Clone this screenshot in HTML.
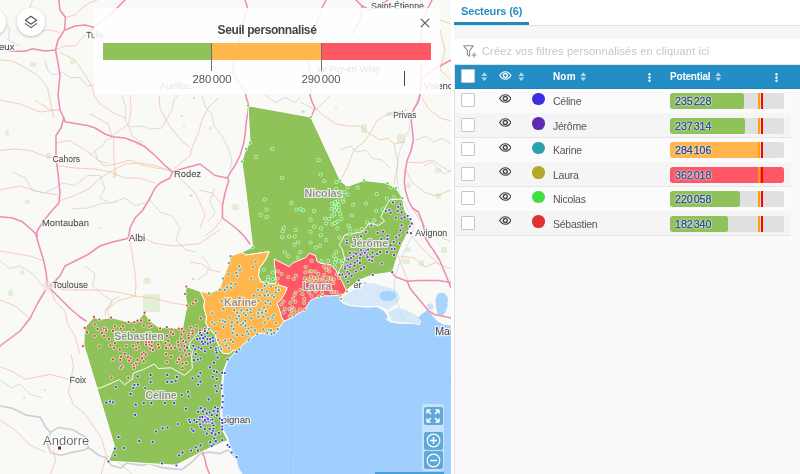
<!DOCTYPE html>
<html lang="fr"><head><meta charset="utf-8"><title>Secteurs</title>
<style>
*{box-sizing:border-box}
html,body{margin:0;padding:0}
body{width:800px;height:474px;overflow:hidden;position:relative;background:#fafafa;font-family:"Liberation Sans",sans-serif;color:#444}
#map{position:absolute;left:0;top:0;width:450.7px;height:474px;overflow:hidden;background:#f9f9f6}
#map svg{position:absolute;left:0;top:0}
#gut{position:absolute;left:450.7px;top:0;width:3.6px;height:474px;background:#fff}
#pl{z-index:4;position:absolute;left:0;top:64px;width:0.8px;height:410px;background:#e0e0e0}
#panel{position:absolute;left:454px;top:0;width:346px;height:474px;background:#fafafa;overflow:hidden}
.abs{position:absolute}
#tab{left:7px;top:3.2px;font-size:11px;font-weight:bold;color:#2b8cc4;line-height:16px;white-space:nowrap;letter-spacing:-0.15px}
#tabline{left:0;top:22px;width:75px;height:3px;background:#1f8ac0}
#tabrule{left:0;top:25px;width:346px;height:1px;background:#e3e3e3}
#tabbg{left:0;top:0;width:346px;height:25px;background:#fff}
#band{left:0;top:26px;width:346px;height:13px;background:#f7f7f7}
#filter{left:0;top:39px;width:346px;height:25.8px;background:#fff;border-bottom:1px solid #e2e2e2}
#filter span{position:absolute;left:28px;top:4px;font-size:11px;color:#c6c6c6;line-height:16px;white-space:nowrap;letter-spacing:0.17px}
#head{z-index:3;left:0;top:64.8px;width:346px;height:24px;background:#238ec6;border-bottom:1px solid #1f84ba}
.hl{position:absolute;top:5.6px;font-size:10px;color:#fff;line-height:14px;white-space:nowrap;font-weight:bold;letter-spacing:-0.2px}
.cb{position:absolute;left:6.9px;width:14px;height:14px;background:#fff;border:1px solid #c6c6c6;border-radius:1.2px}
.row{position:absolute;left:0;width:337px;height:25px;border-bottom:1.2px solid #e6e6e6;background:#fbfbfb}
.row.alt{background:#f5f5f5}
.nm{position:absolute;left:99px;top:5.6px;font-size:10.5px;color:#555;line-height:14px;white-space:nowrap;letter-spacing:-0.25px}
.dot{position:absolute;left:78px;top:4px;width:12.6px;height:12.6px;border-radius:50%}
.track{position:absolute;left:216.2px;top:4.7px;width:114.2px;height:16.2px;background:#e0e0e0;border-radius:2.5px;overflow:hidden}
.fill{position:absolute;left:0;top:0;height:100%;border-radius:2.5px}
.mo{position:absolute;left:87.6px;top:0;width:2px;height:100%;background:#ffa500}
.mr{position:absolute;left:90.5px;top:0;width:2.3px;height:100%;background:#f00}
.val{position:absolute;left:4.8px;top:0.2px;font-size:10.6px;line-height:16px;color:#2b4a88;white-space:nowrap;letter-spacing:0;word-spacing:-1.9px;-webkit-text-stroke:0.35px #2b4a88;text-shadow:0 0 1px #fff,0 0 1px #fff,0 0 2px #fff,0 0 2px #fff}
#legend{left:94px;top:8px;width:346px;height:86.2px;background:rgba(255,255,255,0.86)}
#legend .t{position:absolute;left:0;top:14px;width:346px;text-align:center;font-size:12px;font-weight:bold;color:#444;line-height:16px;letter-spacing:-0.4px}
#legend .b{position:absolute;top:35px;height:17px}
#legend .tk{position:absolute;top:35px;width:1.25px;height:27.5px;background:#707070}
#legend .lb{position:absolute;top:62.5px;width:60px;text-align:center;font-size:11.3px;color:#555;line-height:16px;word-spacing:-1.6px}
.circ{position:absolute;width:28px;height:28px;border-radius:50%;background:#fff;box-shadow:0 1px 3px rgba(0,0,0,0.25)}
#zc{left:422px;top:404px;width:22px;height:67px;background:rgba(255,255,255,0.4);border-radius:3px}
.zb{position:absolute;left:2px;width:18.5px;height:18px;background:#5ea9d8;border-radius:2px}
</style></head>
<body>
<div id="map">
<svg width="451" height="474" viewBox="0 0 451 474" font-family="Liberation Sans, sans-serif">
<defs><filter id="bl" x="-5%" y="-5%" width="110%" height="110%"><feGaussianBlur stdDeviation="0.55"/></filter><filter id="bd" x="-2%" y="-2%" width="104%" height="104%"><feGaussianBlur stdDeviation="0.3"/></filter><filter id="halo" x="-5%" y="-5%" width="110%" height="110%"><feMorphology in="SourceAlpha" operator="dilate" radius="0.8" result="d"/><feGaussianBlur in="d" stdDeviation="0.45" result="b"/><feFlood flood-color="#fff" flood-opacity="0.9"/><feComposite in2="b" operator="in" result="h"/><feMerge><feMergeNode in="h"/><feMergeNode in="SourceGraphic"/></feMerge></filter><filter id="halo2" x="-5%" y="-5%" width="110%" height="110%"><feMorphology in="SourceAlpha" operator="dilate" radius="1.3" result="d"/><feGaussianBlur in="d" stdDeviation="0.5" result="b"/><feFlood flood-color="#fff" flood-opacity="0.8"/><feComposite in2="b" operator="in" result="h"/><feMerge><feMergeNode in="h"/><feMergeNode in="SourceGraphic"/></feMerge></filter><clipPath id="c361"><rect x="353.6" y="270" width="20" height="30"/></clipPath><clipPath id="c250"><rect x="223.2" y="405" width="40" height="30"/></clipPath><clipPath id="c14"><rect x="0" y="30" width="40" height="30"/></clipPath></defs>
<rect width="451" height="474" fill="#f9f9f6"/>
<g filter="url(#bl)">
<polygon points="339.7,295.2 339.7,300.3 343.5,304.0 351.0,306.6 358.2,307.1 368.0,307.8 376.4,307.1 383.4,310.6 387.6,316.2 386.2,319.7 390.4,322.5 401.6,323.9 412.8,323.9 419.8,325.3 421.2,321.8 418.4,317.6 422.6,313.4 426.8,310.6 431.0,313.4 433.8,317.6 438.0,321.8 443.6,324.6 452.0,326.0 451.0,474.0 242.6,474.0 238.5,467.4 236.6,458.0 233.0,452.5 230.5,446.0 228.4,438.6 225.8,433.5 223.6,429.4 222.8,421.0 222.4,413.0 223.6,399.4 223.2,385.8 224.5,372.2 228.4,360.0 235.8,351.8 243.2,344.3 249.5,339.2 257.0,334.2 263.4,332.9 271.0,334.2 277.3,329.7 283.5,320.3 294.0,314.0 304.0,307.0 312.0,298.0 318.4,294.0 326.0,293.0 335.3,293.0" fill="#a0cffd"/>
<path d="M292.5 322 L292 400 L290.5 474 M451 378 L420 435 L399 474" fill="none" stroke="#8fbdf0" stroke-width="0.9" opacity="0.45"/>
<g fill="#d3e8c2" opacity="0.6">
<rect x="143.5" y="278.0" width="7.0" height="6.0" rx="1.5"/>
<rect x="143.0" y="294.0" width="17.0" height="18.0" rx="1.5"/>
<rect x="361.0" y="124.0" width="6.0" height="9.0" rx="1.5"/>
<rect x="397.0" y="134.0" width="8.0" height="9.0" rx="1.5"/>
<rect x="386.0" y="112.0" width="8.0" height="4.0" rx="1.5"/>
<rect x="435.0" y="168.0" width="6.0" height="5.0" rx="1.5"/>
<rect x="46.0" y="153.0" width="5.0" height="6.0" rx="1.5"/>
<rect x="137.0" y="140.0" width="6.0" height="5.0" rx="1.5"/>
<rect x="113.0" y="172.0" width="4.0" height="5.0" rx="1.5"/>
<rect x="232.0" y="204.0" width="7.0" height="6.0" rx="1.5"/>
<rect x="402.0" y="259.0" width="8.0" height="5.0" rx="1.5"/>
<rect x="419.0" y="260.0" width="5.0" height="6.0" rx="1.5"/>
<rect x="406.0" y="183.0" width="5.0" height="5.0" rx="1.5"/>
<rect x="436.0" y="193.0" width="5.0" height="6.0" rx="1.5"/>
<rect x="441.0" y="247.0" width="6.0" height="6.0" rx="1.5"/>
<rect x="406.0" y="247.0" width="5.0" height="5.0" rx="1.5"/>
<rect x="70.0" y="60.0" width="5.0" height="4.0" rx="1.5"/>
<rect x="30.0" y="62.0" width="6.0" height="5.0" rx="1.5"/>
<rect x="5.0" y="130.0" width="4.0" height="6.0" rx="1.5"/>
<rect x="25.0" y="200.0" width="5.0" height="4.0" rx="1.5"/>
<rect x="155.0" y="32.0" width="5.0" height="4.0" rx="1.5"/>
<rect x="388.0" y="20.0" width="5.0" height="5.0" rx="1.5"/>
<rect x="20.0" y="270.0" width="4.0" height="5.0" rx="1.5"/>
<rect x="8.0" y="290.0" width="5.0" height="6.0" rx="1.5"/>
</g>
<g fill="#a0cffd">
<ellipse cx="182.0" cy="116.0" rx="1.2" ry="1.0" opacity=".6"/>
<ellipse cx="184.0" cy="126.0" rx="1.2" ry="0.8" opacity=".6"/>
<ellipse cx="194.0" cy="98.0" rx="1.0" ry="1.2" opacity=".6"/>
<ellipse cx="303.0" cy="111.6" rx="2.2" ry="1.2" opacity=".6"/>
<ellipse cx="191.0" cy="195.5" rx="1.6" ry="1.6" opacity=".6"/>
<ellipse cx="193.0" cy="279.0" rx="1.5" ry="1.2" opacity=".6"/>
<ellipse cx="210.0" cy="128.0" rx="1.0" ry="1.5" opacity=".6"/>
<ellipse cx="336.0" cy="109.0" rx="1.0" ry="1.0" opacity=".6"/>
<ellipse cx="160.0" cy="248.0" rx="1.0" ry="1.0" opacity=".6"/>
<ellipse cx="100.0" cy="228.0" rx="1.0" ry="1.0" opacity=".6"/>
<ellipse cx="24.0" cy="398.0" rx="1.0" ry="1.0" opacity=".6"/>
<ellipse cx="45.0" cy="390.0" rx="1.0" ry="1.0" opacity=".6"/>
<ellipse cx="120.0" cy="60.0" rx="1.0" ry="1.4" opacity=".6"/>
<polygon points="343.0,297.0 350.0,292.0 358.0,288.0 366.0,284.0 374.0,283.0 382.0,286.0 390.0,288.0 398.0,292.0 400.0,299.0 395.0,305.0 388.0,310.0 380.0,306.0 370.0,306.0 360.0,306.0 350.0,305.0 343.0,302.0" opacity="0.38"/>
<polygon points="379.5,294.0 383.0,291.5 389.0,291.0 394.5,292.5 396.5,296.0 394.0,299.5 389.0,301.0 383.0,300.5 380.0,298.0" opacity="0.90"/>
<polygon points="437.0,295.0 440.0,292.5 445.0,293.5 448.0,298.0 447.5,306.0 445.0,313.0 441.0,316.5 437.5,314.0 436.0,307.0 435.5,300.0" opacity="0.90"/>
<polygon points="388.0,312.0 396.0,308.0 406.0,310.0 414.0,314.0 420.0,318.0 420.0,324.0 410.0,323.0 400.0,322.0 392.0,321.0" opacity="0.40"/>
<polygon points="362.8,283.3 365.0,281.8 367.2,283.3 365.0,284.8" opacity="0.80"/>
<polygon points="427.0,305.0 431.0,303.0 434.0,306.0 432.0,310.0 428.0,309.0" opacity="0.50"/>
</g>
<polyline points="420.0,92.0 414.0,110.0 410.0,122.0 409.0,130.0 404.0,140.0 400.0,150.0 398.0,160.0 397.0,174.0 398.0,185.0 400.0,196.0 405.0,204.0 410.0,214.0 414.0,226.0 412.0,236.0 406.0,248.0 400.0,262.0 396.0,274.0 394.0,286.0 396.0,298.0 400.0,310.0 404.0,322.0" fill="none" stroke="#b4d3f3" stroke-width="1" opacity="0.6"/>
<g fill="none" stroke="#d0cddb" stroke-width="0.9" stroke-linejoin="round" opacity="0.8">
<polyline points="122.0,95.0 126.0,108.0 125.0,120.0 129.0,127.0 142.0,126.0 150.0,129.0 162.0,128.0 166.0,120.0 172.0,110.0 174.0,100.0 178.0,95.0"/>
<polyline points="202.0,96.0 206.0,108.0 212.0,114.0 214.0,126.0 222.0,136.0 228.0,148.0 232.0,160.0 230.0,170.0"/>
<polyline points="90.0,156.0 96.0,150.0 102.0,146.0 106.0,140.0 112.0,138.0"/>
<polyline points="129.0,127.0 132.0,136.0 138.0,140.0"/>
<polyline points="45.0,60.0 47.5,70.0 52.5,75.0 62.5,72.5 70.0,77.5 80.0,77.5 87.5,86.0 94.0,85.0"/>
<polyline points="32.5,0.0 30.0,7.5 35.0,12.5"/>
<polyline points="12.5,171.8 25.0,178.0 32.5,190.5 45.0,193.0 55.0,188.0 62.5,183.0 75.0,185.5 87.5,175.5 100.0,175.5 105.0,188.0 100.0,198.0 110.0,203.0 125.0,198.0 135.0,205.5 145.0,203.0"/>
<polyline points="95.0,150.5 97.5,160.5 107.5,163.0"/>
<polyline points="72.5,209.0 87.5,208.0 100.0,204.0 117.5,201.8"/>
<polyline points="0.0,261.0 10.0,268.5 20.0,266.0 32.5,273.5 42.5,286.0"/>
<polyline points="85.0,266.0 95.0,273.5 92.5,286.0 105.0,296.0 112.5,301.0 107.5,311.0 110.0,318.5"/>
<polyline points="300.0,102.0 308.0,106.0 316.0,110.0 324.0,102.0 330.0,96.0"/>
<polyline points="424.0,166.0 432.0,162.0 438.0,168.0 444.0,174.0 451.0,170.0"/>
<polyline points="215.0,188.0 210.0,200.5 215.0,213.0 207.5,223.0"/>
<polyline points="265.0,95.0 275.0,102.5 285.0,97.5 295.0,102.5 300.0,97.5"/>
<polyline points="202.0,256.0 210.0,266.0 206.0,274.0 198.0,280.0"/>
<polyline points="0.0,20.0 10.0,28.0 8.0,40.0 20.0,46.0"/>
<polyline points="150.0,200.0 160.0,212.0 172.0,216.0 180.0,228.0 176.0,240.0 186.0,250.0 196.0,252.0"/>
<polyline points="340.0,150.0 350.0,146.0 356.0,152.0 366.0,150.0 372.0,158.0 382.0,160.0 390.0,168.0"/>
<polyline points="416.0,140.0 426.0,136.0 434.0,142.0 442.0,138.0 451.0,144.0"/>
<polyline points="0.0,380.0 12.0,388.0 20.0,384.0 30.0,394.0 42.0,398.0"/>
</g>
<g fill="none" stroke="#cdc9d8" stroke-width="1.7" stroke-linejoin="round" opacity="0.9">
<polyline points="0.0,406.0 12.7,408.4 25.3,414.8 40.5,417.3 45.6,427.4 50.6,432.5 58.0,427.4 73.4,430.0 86.0,437.5 88.6,447.7 98.7,455.3 106.0,457.8 111.0,465.4 121.5,468.0 126.6,462.9 141.8,465.4 148.6,463.5 160.8,467.3 172.9,468.8 182.0,469.5 191.1,462.8 200.3,453.6 209.4,452.1 220.0,453.6 228.0,450.0 236.0,458.0"/>
<polyline points="50.6,432.5 47.0,442.6 50.6,452.7 60.8,455.3 70.9,452.7 83.5,450.2 88.6,447.7"/>
</g>
<g fill="none" stroke="#f4c3aa" stroke-width="1" stroke-linejoin="round" opacity="0.8">
<polyline points="130.0,95.0 131.0,110.0 129.0,124.0 116.0,133.0 112.0,137.0"/>
<polyline points="159.0,96.0 160.0,108.0 166.0,120.0 174.0,132.0 184.0,143.0 190.0,147.0"/>
<polyline points="218.0,98.0 208.0,108.0 202.0,120.0 198.0,134.0 192.0,148.0 190.0,156.0 182.0,162.0 174.0,169.0"/>
<polyline points="90.0,114.0 98.0,118.0 108.0,124.0 112.0,136.0"/>
<polyline points="56.0,143.0 70.0,140.5 85.0,150.0 96.0,158.0 104.0,166.0 116.0,164.0 130.0,160.0 142.0,165.0 156.0,168.0 170.0,170.0"/>
<polyline points="65.5,17.5 75.0,15.0 82.5,7.5 90.0,2.5 97.5,0.0"/>
<polyline points="55.5,50.0 65.0,46.0 75.0,46.0 85.0,35.0 94.0,27.5"/>
<polyline points="60.0,52.5 75.0,60.0 85.0,75.0 92.5,87.5 94.0,95.0 100.0,104.0 112.0,112.0 125.0,118.0"/>
<polyline points="0.0,60.0 12.5,61.0 25.0,67.5 37.5,75.0 47.5,87.5 50.0,100.0 54.0,118.0"/>
<polyline points="25.0,27.5 37.5,31.0 50.0,30.0 60.0,32.5"/>
<polyline points="35.0,100.0 50.0,110.0 60.0,110.0"/>
<polyline points="0.0,150.5 15.0,149.0 30.0,150.5 47.5,157.0 56.0,158.0"/>
<polyline points="56.0,165.5 75.0,168.0 95.0,169.0 110.0,172.0 125.0,164.0 140.0,163.0 155.0,165.5 172.5,171.8"/>
<polyline points="113.8,136.8 113.8,155.5 115.0,171.8 113.8,178.0"/>
<polyline points="60.0,200.5 75.0,195.5 90.0,188.0 100.0,178.0 110.0,171.8"/>
<polyline points="110.0,171.8 125.0,178.0 140.0,178.0 155.0,183.0"/>
<polyline points="172.5,171.8 185.0,183.0 195.0,193.0 200.0,203.0 205.0,215.0 200.0,228.0"/>
<polyline points="47.5,286.0 65.0,290.0 82.5,290.0 100.0,290.0 117.5,292.0 135.0,296.0 155.0,298.5 175.0,303.5 186.0,305.0"/>
<polyline points="130.0,241.0 132.5,256.0 135.0,273.5 136.0,286.0 135.0,296.0"/>
<polyline points="105.0,311.0 117.5,301.0 135.0,296.0"/>
<polyline points="0.0,251.0 15.0,253.5 30.0,256.0 43.8,261.0"/>
<polyline points="140.0,236.0 155.0,243.5 175.0,246.0 200.0,243.5 210.0,236.0 220.0,230.0"/>
<polyline points="50.0,288.5 55.0,301.0 65.0,311.0 67.5,323.5 75.0,336.0 80.0,354.0"/>
<polyline points="71.0,354.0 73.4,366.7 71.0,379.3 68.4,392.0 73.4,404.6 86.0,414.8 93.7,427.4 101.3,437.5 106.3,455.3 101.3,474.0"/>
<polyline points="0.0,366.7 12.7,371.7 25.3,379.3 38.0,376.8 50.6,374.3 68.4,379.3"/>
<polyline points="53.2,450.2 55.7,460.3 50.6,474.0"/>
<polyline points="106.3,455.3 119.0,462.9 131.6,474.0"/>
<polyline points="315.0,108.0 324.0,116.0 336.0,124.0 348.0,126.0 360.0,126.0 370.0,134.0 380.0,140.0 388.0,138.0 394.0,144.0 404.0,142.0"/>
<polyline points="370.0,134.0 364.0,142.0 354.0,150.0 350.0,160.0 346.0,170.0 342.0,178.0"/>
<polyline points="370.0,134.0 376.0,122.0 384.0,116.0 394.0,112.0 408.0,110.0"/>
<polyline points="422.0,98.0 428.0,108.0 440.0,118.0 451.0,121.0"/>
<polyline points="408.0,162.0 420.0,163.0 432.0,160.0 444.0,168.0 451.0,172.0"/>
<polyline points="394.0,144.0 396.0,154.0 398.0,162.0 396.0,174.0 394.0,185.0"/>
<polyline points="406.0,170.0 412.0,182.0 424.0,192.0 436.0,196.0 451.0,190.0"/>
<polyline points="412.0,208.0 420.0,220.0 428.0,230.0 440.0,236.0 451.0,242.0"/>
<polyline points="412.0,236.0 420.0,246.0 428.0,254.0 440.0,265.0"/>
<polyline points="399.6,256.0 414.0,258.0 425.0,267.0 435.5,262.6 451.0,269.0"/>
<polyline points="408.0,281.6 404.0,271.0 399.6,260.5 397.5,250.0"/>
<polyline points="200.0,190.5 212.5,193.0 222.5,205.5"/>
<polyline points="222.5,218.0 215.0,228.0 205.0,236.0"/>
<polyline points="190.0,262.0 202.0,264.0 210.0,270.0 220.0,272.0"/>
<polyline points="105.8,316.5 105.0,310.4 108.9,305.8 112.7,299.7 119.5,296.7"/>
<polyline points="0.0,100.0 20.0,104.0 40.0,112.0 58.0,110.0"/>
<polyline points="0.0,190.0 20.0,186.0 40.0,192.0 58.0,195.0"/>
<polyline points="0.0,300.0 15.0,306.0 30.0,318.5"/>
<polyline points="0.0,420.0 15.0,430.0 30.0,445.0 45.0,452.0"/>
<polyline points="420.0,0.0 428.0,12.0 440.0,20.0 451.0,24.0"/>
<polyline points="440.0,30.0 445.0,50.0 440.0,70.0 451.0,80.0"/>
</g>
<g fill="none" stroke="#ef8cb5" stroke-width="1.55" stroke-linejoin="round" stroke-linecap="round">
<polyline points="58.8,0.0 60.0,10.0 65.5,17.5 64.5,30.0 58.0,40.0 55.5,50.0 58.0,62.5 60.0,75.0 58.0,95.0 60.0,110.0 63.8,118.0 61.0,128.0 56.0,135.5 56.0,158.0 58.0,173.0 60.0,193.0 58.8,203.0 50.0,213.0 43.8,220.5 37.5,230.5 36.2,236.0 40.0,248.5 43.8,261.0 46.2,273.5 47.5,286.0"/>
<polyline points="10.0,51.2 25.0,51.2 32.5,48.8 45.0,51.0 55.5,50.0"/>
<polyline points="65.5,30.0 75.0,26.0 85.0,25.0 94.0,27.5 100.0,22.5 110.0,15.0 120.0,5.0 125.0,0.0"/>
<polyline points="63.8,118.0 65.0,121.8 75.0,123.5 87.5,125.5 95.0,128.0 105.0,134.0 112.5,136.8 125.0,138.0 135.0,141.8 145.0,146.8 155.0,155.5 165.0,165.5 172.5,171.8 185.0,168.0 200.0,164.0 215.0,175.5 227.5,178.0"/>
<polyline points="172.5,171.8 170.0,178.0 160.0,183.0 155.0,188.0 150.0,198.0 142.5,210.5 135.0,218.0 130.0,228.0 128.8,236.0 127.5,238.5 112.5,242.0 100.0,246.0 87.5,254.8 75.0,261.0 65.0,266.0 60.0,276.0 50.0,286.0"/>
<polyline points="0.0,216.8 12.5,218.0 22.5,221.8 32.5,230.5 37.5,236.0"/>
<polyline points="50.0,288.5 60.0,298.5 70.0,308.5 80.0,317.0 86.0,321.0"/>
<polyline points="45.0,291.0 37.5,303.5 30.0,318.5 20.0,331.0 10.0,338.5 0.0,346.0"/>
<polyline points="245.0,0.0 247.5,7.5 244.0,20.0 240.0,38.0 236.0,55.0 232.5,70.0 236.0,78.0 240.0,85.0 245.0,90.0 246.2,97.5 248.8,105.0 246.2,122.5 245.0,135.0 243.8,143.0 240.0,155.5 235.0,165.5 230.0,173.0 227.5,178.0 228.8,180.5 225.0,193.0 222.5,205.5 222.5,218.0 232.5,225.5 238.0,230.0 244.0,236.0 250.0,244.0"/>
<polyline points="420.3,94.0 418.3,102.0 413.3,110.0 411.3,120.0 412.3,130.0 413.3,140.0 411.3,150.0 407.3,160.0 405.3,170.0 404.3,182.0 405.3,190.0 408.3,200.0 412.3,208.0 418.3,212.0 422.3,222.0 424.3,230.0 425.3,238.0 430.3,246.0 433.4,250.0 439.7,260.5 446.0,275.3 451.0,288.0"/>
<polyline points="391.8,272.8 396.0,277.0 407.2,281.2 418.4,280.5 438.0,280.5 451.0,282.6"/>
<polyline points="407.2,281.2 410.0,288.2 415.6,295.2 422.6,303.6 428.2,310.6 435.2,314.8 443.6,316.2 452.0,318.3"/>
<polyline points="326.0,0.0 322.0,8.0 318.0,20.0 312.0,40.0 308.0,62.0 312.0,80.0 310.0,95.0 312.0,102.0 315.0,108.0 312.0,115.0"/>
<polyline points="356.0,0.0 362.0,6.0 370.0,10.0 380.0,6.0 388.0,0.0"/>
<polyline points="432.0,0.0 428.0,8.0 423.0,20.0 421.0,40.0 421.5,60.0 421.0,80.0 420.3,94.0"/>
<polyline points="421.0,80.0 430.0,72.0 440.0,66.0 451.0,60.0"/>
<polyline points="362.0,6.0 360.0,20.0 352.0,34.0"/>
<polyline points="201.8,451.4 204.8,458.2 206.3,465.8 209.4,474.0"/>
</g>
<circle cx="48" cy="286" r="5" fill="#e6ddd8" opacity="0.6"/>
</g>
<g font-size="9.6" fill="#3a3a3a" stroke="#3a3a3a" stroke-width="0.28" filter="url(#halo)">
<text x="14.5" y="50.4" text-anchor="end" clip-path="url(#c14)">Périgueux</text>
<text x="86.2" y="38.4" textLength="17.5" lengthAdjust="spacingAndGlyphs">Tulle</text>
<text x="160.0" y="88.9" textLength="31.0" lengthAdjust="spacingAndGlyphs">Aurillac</text>
<text x="317.5" y="72.0" textLength="62.5" lengthAdjust="spacingAndGlyphs">Le Puy-en-Velay</text>
<text x="371.0" y="8.9" textLength="53.0" lengthAdjust="spacingAndGlyphs">Saint-Étienne</text>
<text x="424.0" y="88.8">Valence</text>
<text x="393.2" y="118.0" textLength="23.2" lengthAdjust="spacingAndGlyphs">Privas</text>
<text x="52.5" y="161.9" textLength="27.5" lengthAdjust="spacingAndGlyphs">Cahors</text>
<text x="174.0" y="176.9" textLength="27.0" lengthAdjust="spacingAndGlyphs">Rodez</text>
<text x="42.0" y="226.4" textLength="47.0" lengthAdjust="spacingAndGlyphs">Montauban</text>
<text x="128.8" y="240.9" textLength="16.3" lengthAdjust="spacingAndGlyphs">Albi</text>
<text x="415.3" y="236.4" textLength="32.0" lengthAdjust="spacingAndGlyphs">Avignon</text>
<text x="52.5" y="288.4" textLength="35.5" lengthAdjust="spacingAndGlyphs">Toulouse</text>
<text x="69.5" y="383.4" textLength="16.8" lengthAdjust="spacingAndGlyphs">Foix</text>
<text x="435.2" y="334.8" font-size="10.6">Marseille</text>
<text x="361.8" y="288.2" text-anchor="end" clip-path="url(#c361)">Montpellier</text>
<text x="250.4" y="423.2" text-anchor="end" clip-path="url(#c250)">Perpignan</text>
</g>
<text x="43" y="445.4" font-size="13" fill="#5a5a5a" filter="url(#halo)">Andorre</text>
<rect x="58" y="446.5" width="3" height="3" fill="#8b1a1a"/>
<g stroke="#fff" stroke-width="1" stroke-linejoin="round">
<polygon points="248.0,105.7 310.8,117.0 340.3,180.6 347.2,186.4 363.9,180.4 387.5,183.2 396.2,188.0 402.5,198.2 404.5,210.0 412.0,223.0 408.0,232.0 403.5,241.0 398.5,252.8 392.2,272.2 372.5,275.0 358.4,280.4 347.7,289.2 346.8,291.0 344.0,288.0 287.2,287.6 276.0,283.6 266.0,283.0 260.9,281.7 258.4,275.4 259.6,267.8 266.0,259.0 269.1,251.6 245.7,255.1 241.9,252.3 252.7,247.0 245.7,190.0 241.9,161.6 245.9,149.2 250.0,142.7" fill="#8fc35a"/>
<polygon points="94.0,316.9 99.4,319.5 111.1,317.5 128.6,322.0 137.4,320.7 144.6,312.7 149.4,320.3 160.0,328.3 166.9,327.0 178.7,328.6 182.5,328.3 184.8,316.5 187.1,305.5 185.1,294.0 186.3,286.5 200.1,291.2 204.6,300.0 203.9,307.6 206.5,316.5 205.8,322.8 209.0,329.0 215.3,334.2 217.2,341.8 219.7,348.0 222.9,353.2 229.2,353.8 234.3,349.4 235.8,351.8 227.6,360.0 222.9,372.2 221.5,385.8 221.9,399.4 220.6,413.0 221.1,421.0 222.0,429.7 224.2,433.5 226.8,438.6 227.8,440.6 220.0,443.6 212.7,446.6 203.1,451.3 176.0,465.2 108.4,461.2 114.4,446.0 96.7,387.5 83.8,345.0 84.6,327.8" fill="#8fc35a"/>
<polygon points="241.9,252.3 245.7,255.1 269.1,251.6 266.0,259.0 259.6,267.8 258.4,275.4 260.9,281.7 266.0,283.0 276.0,283.6 287.2,287.6 285.3,292.7 281.5,299.0 277.0,303.4 279.0,307.8 281.5,316.7 284.0,321.1 279.0,328.0 276.5,332.0 272.7,334.4 266.3,333.8 260.0,333.0 257.0,334.2 249.5,339.2 243.2,344.3 236.8,351.9 234.3,349.4 229.2,353.8 222.9,353.2 219.7,348.0 217.2,341.8 215.3,334.2 209.0,329.0 205.8,322.8 206.5,316.5 203.9,307.6 204.6,300.0 200.1,291.2 209.0,293.1 219.7,289.3 222.9,278.5 229.2,262.7 230.5,255.8" fill="#ffb64c"/>
<polygon points="274.0,259.0 289.2,266.6 293.0,262.8 305.7,257.7 309.5,253.3 315.8,255.8 317.0,261.5 320.9,263.4 331.0,264.7 336.0,270.4 338.6,275.4 341.5,280.4 346.8,291.0 343.3,294.1 339.7,295.2 330.9,295.8 323.3,295.8 315.7,297.7 310.6,300.3 308.1,304.0 304.3,310.4 298.0,313.5 291.6,318.0 284.0,321.1 281.5,316.7 279.0,307.8 277.0,303.4 281.5,299.0 285.3,292.7 287.2,287.6 279.0,285.0 276.0,281.8 275.3,271.6" fill="#fe5765"/>
<polyline points="402.5,199.0 390.3,199.7 387.0,204.0 384.6,209.0 380.8,216.8 384.6,221.2 378.2,225.6 373.2,223.7 368.7,223.7 364.3,229.4 361.8,232.0 351.6,233.8 344.7,234.8 342.2,240.0 339.0,244.6 342.2,249.0 343.4,253.4 344.7,259.0 342.8,264.0 339.0,270.5 339.0,274.3" fill="none"/>
<polyline points="96.7,387.5 99.7,388.3 119.5,379.6 124.4,384.8 132.4,379.2 133.2,373.1 143.8,369.3 154.4,364.0 158.2,368.5 171.1,367.8 184.5,375.4 192.4,368.5 191.6,357.2 192.4,351.0 189.4,348.0 190.0,342.0 193.8,338.0 197.6,333.2 205.0,330.4 209.0,329.0" fill="none"/>
</g>
<g filter="url(#bd)">
<g fill="#35e045">
<circle cx="248.0" cy="105.6" r="2.1" fill="#fff" fill-opacity=".55"/><circle cx="248.0" cy="105.6" r="1.1"/><circle cx="310.8" cy="117.0" r="2.1" fill="#fff" fill-opacity=".55"/><circle cx="310.8" cy="117.0" r="1.1"/><circle cx="250.0" cy="142.7" r="2.1" fill="#fff" fill-opacity=".55"/><circle cx="250.0" cy="142.7" r="1.1"/><circle cx="246.0" cy="149.1" r="2.1" fill="#fff" fill-opacity=".55"/><circle cx="246.0" cy="149.1" r="1.1"/><circle cx="242.0" cy="161.6" r="2.1" fill="#fff" fill-opacity=".55"/><circle cx="242.0" cy="161.6" r="1.1"/><circle cx="272.5" cy="148.7" r="2.1" fill="#fff" fill-opacity=".55"/><circle cx="272.5" cy="148.7" r="1.1"/><circle cx="256.1" cy="156.9" r="2.1" fill="#fff" fill-opacity=".55"/><circle cx="256.1" cy="156.9" r="1.1"/><circle cx="318.6" cy="160.2" r="2.1" fill="#fff" fill-opacity=".55"/><circle cx="318.6" cy="160.2" r="1.1"/><circle cx="320.6" cy="174.6" r="2.1" fill="#fff" fill-opacity=".55"/><circle cx="320.6" cy="174.6" r="1.1"/><circle cx="282.1" cy="177.8" r="2.1" fill="#fff" fill-opacity=".55"/><circle cx="282.1" cy="177.8" r="1.1"/><circle cx="324.2" cy="181.2" r="2.1" fill="#fff" fill-opacity=".55"/><circle cx="324.2" cy="181.2" r="1.1"/><circle cx="336.3" cy="182.2" r="2.1" fill="#fff" fill-opacity=".55"/><circle cx="336.3" cy="182.2" r="1.1"/><circle cx="340.3" cy="180.6" r="2.1" fill="#fff" fill-opacity=".55"/><circle cx="340.3" cy="180.6" r="1.1"/><circle cx="264.7" cy="199.5" r="2.1" fill="#fff" fill-opacity=".55"/><circle cx="264.7" cy="199.5" r="1.1"/><circle cx="266.6" cy="209.6" r="2.1" fill="#fff" fill-opacity=".55"/><circle cx="266.6" cy="209.6" r="1.1"/><circle cx="260.6" cy="214.9" r="2.1" fill="#fff" fill-opacity=".55"/><circle cx="260.6" cy="214.9" r="1.1"/><circle cx="266.6" cy="217.0" r="2.1" fill="#fff" fill-opacity=".55"/><circle cx="266.6" cy="217.0" r="1.1"/><circle cx="291.6" cy="202.8" r="2.1" fill="#fff" fill-opacity=".55"/><circle cx="291.6" cy="202.8" r="1.1"/><circle cx="296.3" cy="209.6" r="2.1" fill="#fff" fill-opacity=".55"/><circle cx="296.3" cy="209.6" r="1.1"/><circle cx="300.5" cy="209.0" r="2.1" fill="#fff" fill-opacity=".55"/><circle cx="300.5" cy="209.0" r="1.1"/><circle cx="303.3" cy="210.3" r="2.1" fill="#fff" fill-opacity=".55"/><circle cx="303.3" cy="210.3" r="1.1"/><circle cx="314.1" cy="210.9" r="2.1" fill="#fff" fill-opacity=".55"/><circle cx="314.1" cy="210.9" r="1.1"/><circle cx="310.6" cy="219.7" r="2.1" fill="#fff" fill-opacity=".55"/><circle cx="310.6" cy="219.7" r="1.1"/><circle cx="314.1" cy="226.7" r="2.1" fill="#fff" fill-opacity=".55"/><circle cx="314.1" cy="226.7" r="1.1"/><circle cx="310.6" cy="231.8" r="2.1" fill="#fff" fill-opacity=".55"/><circle cx="310.6" cy="231.8" r="1.1"/><circle cx="283.7" cy="227.7" r="2.1" fill="#fff" fill-opacity=".55"/><circle cx="283.7" cy="227.7" r="1.1"/><circle cx="282.8" cy="231.3" r="2.1" fill="#fff" fill-opacity=".55"/><circle cx="282.8" cy="231.3" r="1.1"/><circle cx="295.7" cy="230.1" r="2.1" fill="#fff" fill-opacity=".55"/><circle cx="295.7" cy="230.1" r="1.1"/><circle cx="282.2" cy="237.3" r="2.1" fill="#fff" fill-opacity=".55"/><circle cx="282.2" cy="237.3" r="1.1"/><circle cx="289.1" cy="236.6" r="2.1" fill="#fff" fill-opacity=".55"/><circle cx="289.1" cy="236.6" r="1.1"/><circle cx="294.7" cy="236.6" r="2.1" fill="#fff" fill-opacity=".55"/><circle cx="294.7" cy="236.6" r="1.1"/><circle cx="298.0" cy="242.5" r="2.1" fill="#fff" fill-opacity=".55"/><circle cx="298.0" cy="242.5" r="1.1"/><circle cx="294.4" cy="244.7" r="2.1" fill="#fff" fill-opacity=".55"/><circle cx="294.4" cy="244.7" r="1.1"/><circle cx="310.6" cy="242.5" r="2.1" fill="#fff" fill-opacity=".55"/><circle cx="310.6" cy="242.5" r="1.1"/><circle cx="321.0" cy="228.4" r="2.1" fill="#fff" fill-opacity=".55"/><circle cx="321.0" cy="228.4" r="1.1"/><circle cx="320.8" cy="235.2" r="2.1" fill="#fff" fill-opacity=".55"/><circle cx="320.8" cy="235.2" r="1.1"/><circle cx="326.1" cy="223.5" r="2.1" fill="#fff" fill-opacity=".55"/><circle cx="326.1" cy="223.5" r="1.1"/><circle cx="325.1" cy="218.5" r="2.1" fill="#fff" fill-opacity=".55"/><circle cx="325.1" cy="218.5" r="1.1"/><circle cx="329.0" cy="219.1" r="2.1" fill="#fff" fill-opacity=".55"/><circle cx="329.0" cy="219.1" r="1.1"/><circle cx="332.2" cy="215.9" r="2.1" fill="#fff" fill-opacity=".55"/><circle cx="332.2" cy="215.9" r="1.1"/><circle cx="334.3" cy="214.4" r="2.1" fill="#fff" fill-opacity=".55"/><circle cx="334.3" cy="214.4" r="1.1"/><circle cx="332.4" cy="224.2" r="2.1" fill="#fff" fill-opacity=".55"/><circle cx="332.4" cy="224.2" r="1.1"/><circle cx="334.9" cy="223.2" r="2.1" fill="#fff" fill-opacity=".55"/><circle cx="334.9" cy="223.2" r="1.1"/><circle cx="337.5" cy="221.6" r="2.1" fill="#fff" fill-opacity=".55"/><circle cx="337.5" cy="221.6" r="1.1"/><circle cx="337.5" cy="228.4" r="2.1" fill="#fff" fill-opacity=".55"/><circle cx="337.5" cy="228.4" r="1.1"/><circle cx="326.5" cy="240.0" r="2.1" fill="#fff" fill-opacity=".55"/><circle cx="326.5" cy="240.0" r="1.1"/><circle cx="320.0" cy="245.7" r="2.1" fill="#fff" fill-opacity=".55"/><circle cx="320.0" cy="245.7" r="1.1"/><circle cx="315.9" cy="247.6" r="2.1" fill="#fff" fill-opacity=".55"/><circle cx="315.9" cy="247.6" r="1.1"/><circle cx="252.7" cy="247.3" r="2.1" fill="#fff" fill-opacity=".55"/><circle cx="252.7" cy="247.3" r="1.1"/><circle cx="339.4" cy="237.5" r="2.1" fill="#fff" fill-opacity=".55"/><circle cx="339.4" cy="237.5" r="1.1"/><circle cx="332.2" cy="203.7" r="2.1" fill="#fff" fill-opacity=".55"/><circle cx="332.2" cy="203.7" r="1.1"/><circle cx="334.3" cy="206.5" r="2.1" fill="#fff" fill-opacity=".55"/><circle cx="334.3" cy="206.5" r="1.1"/><circle cx="335.6" cy="203.9" r="2.1" fill="#fff" fill-opacity=".55"/><circle cx="335.6" cy="203.9" r="1.1"/><circle cx="337.5" cy="201.4" r="2.1" fill="#fff" fill-opacity=".55"/><circle cx="337.5" cy="201.4" r="1.1"/><circle cx="331.4" cy="209.0" r="2.1" fill="#fff" fill-opacity=".55"/><circle cx="331.4" cy="209.0" r="1.1"/><circle cx="334.9" cy="210.3" r="2.1" fill="#fff" fill-opacity=".55"/><circle cx="334.9" cy="210.3" r="1.1"/><circle cx="336.8" cy="207.7" r="2.1" fill="#fff" fill-opacity=".55"/><circle cx="336.8" cy="207.7" r="1.1"/><circle cx="338.7" cy="205.2" r="2.1" fill="#fff" fill-opacity=".55"/><circle cx="338.7" cy="205.2" r="1.1"/><circle cx="363.9" cy="180.4" r="2.1" fill="#fff" fill-opacity=".55"/><circle cx="363.9" cy="180.4" r="1.1"/><circle cx="387.5" cy="183.2" r="2.1" fill="#fff" fill-opacity=".55"/><circle cx="387.5" cy="183.2" r="1.1"/><circle cx="390.9" cy="187.3" r="2.1" fill="#fff" fill-opacity=".55"/><circle cx="390.9" cy="187.3" r="1.1"/><circle cx="396.2" cy="188.0" r="2.1" fill="#fff" fill-opacity=".55"/><circle cx="396.2" cy="188.0" r="1.1"/><circle cx="402.5" cy="198.2" r="2.1" fill="#fff" fill-opacity=".55"/><circle cx="402.5" cy="198.2" r="1.1"/><circle cx="347.6" cy="187.3" r="2.1" fill="#fff" fill-opacity=".55"/><circle cx="347.6" cy="187.3" r="1.1"/><circle cx="357.7" cy="187.7" r="2.1" fill="#fff" fill-opacity=".55"/><circle cx="357.7" cy="187.7" r="1.1"/><circle cx="336.2" cy="189.2" r="2.1" fill="#fff" fill-opacity=".55"/><circle cx="336.2" cy="189.2" r="1.1"/><circle cx="344.4" cy="192.1" r="2.1" fill="#fff" fill-opacity=".55"/><circle cx="344.4" cy="192.1" r="1.1"/><circle cx="347.6" cy="194.6" r="2.1" fill="#fff" fill-opacity=".55"/><circle cx="347.6" cy="194.6" r="1.1"/><circle cx="376.7" cy="194.2" r="2.1" fill="#fff" fill-opacity=".55"/><circle cx="376.7" cy="194.2" r="1.1"/><circle cx="386.8" cy="198.7" r="2.1" fill="#fff" fill-opacity=".55"/><circle cx="386.8" cy="198.7" r="1.1"/><circle cx="393.7" cy="197.4" r="2.1" fill="#fff" fill-opacity=".55"/><circle cx="393.7" cy="197.4" r="1.1"/><circle cx="342.8" cy="198.7" r="2.1" fill="#fff" fill-opacity=".55"/><circle cx="342.8" cy="198.7" r="1.1"/><circle cx="343.2" cy="201.6" r="2.1" fill="#fff" fill-opacity=".55"/><circle cx="343.2" cy="201.6" r="1.1"/><circle cx="335.2" cy="202.2" r="2.1" fill="#fff" fill-opacity=".55"/><circle cx="335.2" cy="202.2" r="1.1"/><circle cx="353.2" cy="204.7" r="2.1" fill="#fff" fill-opacity=".55"/><circle cx="353.2" cy="204.7" r="1.1"/><circle cx="365.9" cy="203.5" r="2.1" fill="#fff" fill-opacity=".55"/><circle cx="365.9" cy="203.5" r="1.1"/><circle cx="339.0" cy="210.2" r="2.1" fill="#fff" fill-opacity=".55"/><circle cx="339.0" cy="210.2" r="1.1"/><circle cx="376.1" cy="210.8" r="2.1" fill="#fff" fill-opacity=".55"/><circle cx="376.1" cy="210.8" r="1.1"/><circle cx="382.9" cy="209.4" r="2.1" fill="#fff" fill-opacity=".55"/><circle cx="382.9" cy="209.4" r="1.1"/><circle cx="340.3" cy="214.2" r="2.1" fill="#fff" fill-opacity=".55"/><circle cx="340.3" cy="214.2" r="1.1"/><circle cx="351.6" cy="215.5" r="2.1" fill="#fff" fill-opacity=".55"/><circle cx="351.6" cy="215.5" r="1.1"/><circle cx="341.5" cy="219.1" r="2.1" fill="#fff" fill-opacity=".55"/><circle cx="341.5" cy="219.1" r="1.1"/><circle cx="374.2" cy="220.3" r="2.1" fill="#fff" fill-opacity=".55"/><circle cx="374.2" cy="220.3" r="1.1"/><circle cx="367.1" cy="222.5" r="2.1" fill="#fff" fill-opacity=".55"/><circle cx="367.1" cy="222.5" r="1.1"/><circle cx="371.5" cy="224.4" r="2.1" fill="#fff" fill-opacity=".55"/><circle cx="371.5" cy="224.4" r="1.1"/><circle cx="348.5" cy="225.6" r="2.1" fill="#fff" fill-opacity=".55"/><circle cx="348.5" cy="225.6" r="1.1"/><circle cx="350.4" cy="229.2" r="2.1" fill="#fff" fill-opacity=".55"/><circle cx="350.4" cy="229.2" r="1.1"/><circle cx="361.8" cy="229.2" r="2.1" fill="#fff" fill-opacity=".55"/><circle cx="361.8" cy="229.2" r="1.1"/><circle cx="356.5" cy="231.1" r="2.1" fill="#fff" fill-opacity=".55"/><circle cx="356.5" cy="231.1" r="1.1"/><circle cx="349.7" cy="234.2" r="2.1" fill="#fff" fill-opacity=".55"/><circle cx="349.7" cy="234.2" r="1.1"/><circle cx="336.2" cy="252.2" r="2.1" fill="#fff" fill-opacity=".55"/><circle cx="336.2" cy="252.2" r="1.1"/><circle cx="334.2" cy="256.2" r="2.1" fill="#fff" fill-opacity=".55"/><circle cx="334.2" cy="256.2" r="1.1"/><circle cx="335.8" cy="258.9" r="2.1" fill="#fff" fill-opacity=".55"/><circle cx="335.8" cy="258.9" r="1.1"/><circle cx="339.0" cy="260.8" r="2.1" fill="#fff" fill-opacity=".55"/><circle cx="339.0" cy="260.8" r="1.1"/><circle cx="343.4" cy="260.4" r="2.1" fill="#fff" fill-opacity=".55"/><circle cx="343.4" cy="260.4" r="1.1"/><circle cx="328.2" cy="260.8" r="2.1" fill="#fff" fill-opacity=".55"/><circle cx="328.2" cy="260.8" r="1.1"/><circle cx="321.5" cy="261.0" r="2.1" fill="#fff" fill-opacity=".55"/><circle cx="321.5" cy="261.0" r="1.1"/><circle cx="334.9" cy="262.7" r="2.1" fill="#fff" fill-opacity=".55"/><circle cx="334.9" cy="262.7" r="1.1"/><circle cx="342.2" cy="263.5" r="2.1" fill="#fff" fill-opacity=".55"/><circle cx="342.2" cy="263.5" r="1.1"/><circle cx="334.9" cy="267.3" r="2.1" fill="#fff" fill-opacity=".55"/><circle cx="334.9" cy="267.3" r="1.1"/><circle cx="284.8" cy="252.3" r="2.1" fill="#fff" fill-opacity=".55"/><circle cx="284.8" cy="252.3" r="1.1"/><circle cx="288.4" cy="256.1" r="2.1" fill="#fff" fill-opacity=".55"/><circle cx="288.4" cy="256.1" r="1.1"/><circle cx="300.4" cy="252.0" r="2.1" fill="#fff" fill-opacity=".55"/><circle cx="300.4" cy="252.0" r="1.1"/><circle cx="297.7" cy="257.5" r="2.1" fill="#fff" fill-opacity=".55"/><circle cx="297.7" cy="257.5" r="1.1"/><circle cx="263.9" cy="269.7" r="2.1" fill="#fff" fill-opacity=".55"/><circle cx="263.9" cy="269.7" r="1.1"/><circle cx="272.8" cy="272.5" r="2.1" fill="#fff" fill-opacity=".55"/><circle cx="272.8" cy="272.5" r="1.1"/><circle cx="268.1" cy="277.0" r="2.1" fill="#fff" fill-opacity=".55"/><circle cx="268.1" cy="277.0" r="1.1"/><circle cx="268.1" cy="279.9" r="2.1" fill="#fff" fill-opacity=".55"/><circle cx="268.1" cy="279.9" r="1.1"/><circle cx="272.8" cy="279.2" r="2.1" fill="#fff" fill-opacity=".55"/><circle cx="272.8" cy="279.2" r="1.1"/><circle cx="265.4" cy="282.4" r="2.1" fill="#fff" fill-opacity=".55"/><circle cx="265.4" cy="282.4" r="1.1"/>
</g>
<g fill="#6a32cc">
<circle cx="393.0" cy="202.6" r="2.1" fill="#fff" fill-opacity=".55"/><circle cx="393.0" cy="202.6" r="1.1"/><circle cx="400.4" cy="204.4" r="2.1" fill="#fff" fill-opacity=".55"/><circle cx="400.4" cy="204.4" r="1.1"/><circle cx="398.2" cy="206.9" r="2.1" fill="#fff" fill-opacity=".55"/><circle cx="398.2" cy="206.9" r="1.1"/><circle cx="389.4" cy="210.1" r="2.1" fill="#fff" fill-opacity=".55"/><circle cx="389.4" cy="210.1" r="1.1"/><circle cx="385.8" cy="211.1" r="2.1" fill="#fff" fill-opacity=".55"/><circle cx="385.8" cy="211.1" r="1.1"/><circle cx="390.6" cy="212.7" r="2.1" fill="#fff" fill-opacity=".55"/><circle cx="390.6" cy="212.7" r="1.1"/><circle cx="397.5" cy="211.1" r="2.1" fill="#fff" fill-opacity=".55"/><circle cx="397.5" cy="211.1" r="1.1"/><circle cx="401.6" cy="212.3" r="2.1" fill="#fff" fill-opacity=".55"/><circle cx="401.6" cy="212.3" r="1.1"/><circle cx="395.7" cy="217.7" r="2.1" fill="#fff" fill-opacity=".55"/><circle cx="395.7" cy="217.7" r="1.1"/><circle cx="401.6" cy="218.4" r="2.1" fill="#fff" fill-opacity=".55"/><circle cx="401.6" cy="218.4" r="1.1"/><circle cx="404.6" cy="217.4" r="2.1" fill="#fff" fill-opacity=".55"/><circle cx="404.6" cy="217.4" r="1.1"/><circle cx="407.7" cy="215.8" r="2.1" fill="#fff" fill-opacity=".55"/><circle cx="407.7" cy="215.8" r="1.1"/><circle cx="410.5" cy="219.1" r="2.1" fill="#fff" fill-opacity=".55"/><circle cx="410.5" cy="219.1" r="1.1"/><circle cx="411.8" cy="223.7" r="2.1" fill="#fff" fill-opacity=".55"/><circle cx="411.8" cy="223.7" r="1.1"/><circle cx="401.6" cy="225.3" r="2.1" fill="#fff" fill-opacity=".55"/><circle cx="401.6" cy="225.3" r="1.1"/><circle cx="409.9" cy="226.5" r="2.1" fill="#fff" fill-opacity=".55"/><circle cx="409.9" cy="226.5" r="1.1"/><circle cx="400.4" cy="230.4" r="2.1" fill="#fff" fill-opacity=".55"/><circle cx="400.4" cy="230.4" r="1.1"/><circle cx="365.9" cy="232.0" r="2.1" fill="#fff" fill-opacity=".55"/><circle cx="365.9" cy="232.0" r="1.1"/><circle cx="377.6" cy="233.0" r="2.1" fill="#fff" fill-opacity=".55"/><circle cx="377.6" cy="233.0" r="1.1"/><circle cx="382.9" cy="231.7" r="2.1" fill="#fff" fill-opacity=".55"/><circle cx="382.9" cy="231.7" r="1.1"/><circle cx="407.3" cy="232.6" r="2.1" fill="#fff" fill-opacity=".55"/><circle cx="407.3" cy="232.6" r="1.1"/><circle cx="410.9" cy="233.2" r="2.1" fill="#fff" fill-opacity=".55"/><circle cx="410.9" cy="233.2" r="1.1"/><circle cx="371.3" cy="225.6" r="2.1" fill="#fff" fill-opacity=".55"/><circle cx="371.3" cy="225.6" r="1.1"/><circle cx="387.5" cy="235.7" r="2.1" fill="#fff" fill-opacity=".55"/><circle cx="387.5" cy="235.7" r="1.1"/><circle cx="399.5" cy="235.3" r="2.1" fill="#fff" fill-opacity=".55"/><circle cx="399.5" cy="235.3" r="1.1"/><circle cx="396.2" cy="237.3" r="2.1" fill="#fff" fill-opacity=".55"/><circle cx="396.2" cy="237.3" r="1.1"/><circle cx="387.5" cy="239.1" r="2.1" fill="#fff" fill-opacity=".55"/><circle cx="387.5" cy="239.1" r="1.1"/><circle cx="381.4" cy="239.1" r="2.1" fill="#fff" fill-opacity=".55"/><circle cx="381.4" cy="239.1" r="1.1"/><circle cx="361.1" cy="236.3" r="2.1" fill="#fff" fill-opacity=".55"/><circle cx="361.1" cy="236.3" r="1.1"/><circle cx="354.2" cy="237.8" r="2.1" fill="#fff" fill-opacity=".55"/><circle cx="354.2" cy="237.8" r="1.1"/><circle cx="346.8" cy="240.4" r="2.1" fill="#fff" fill-opacity=".55"/><circle cx="346.8" cy="240.4" r="1.1"/><circle cx="346.8" cy="243.0" r="2.1" fill="#fff" fill-opacity=".55"/><circle cx="346.8" cy="243.0" r="1.1"/><circle cx="393.7" cy="242.0" r="2.1" fill="#fff" fill-opacity=".55"/><circle cx="393.7" cy="242.0" r="1.1"/><circle cx="399.7" cy="243.3" r="2.1" fill="#fff" fill-opacity=".55"/><circle cx="399.7" cy="243.3" r="1.1"/><circle cx="390.5" cy="245.4" r="2.1" fill="#fff" fill-opacity=".55"/><circle cx="390.5" cy="245.4" r="1.1"/><circle cx="391.8" cy="249.0" r="2.1" fill="#fff" fill-opacity=".55"/><circle cx="391.8" cy="249.0" r="1.1"/><circle cx="394.7" cy="249.0" r="2.1" fill="#fff" fill-opacity=".55"/><circle cx="394.7" cy="249.0" r="1.1"/><circle cx="387.1" cy="252.2" r="2.1" fill="#fff" fill-opacity=".55"/><circle cx="387.1" cy="252.2" r="1.1"/><circle cx="380.1" cy="252.2" r="2.1" fill="#fff" fill-opacity=".55"/><circle cx="380.1" cy="252.2" r="1.1"/><circle cx="377.2" cy="254.1" r="2.1" fill="#fff" fill-opacity=".55"/><circle cx="377.2" cy="254.1" r="1.1"/><circle cx="372.5" cy="252.5" r="2.1" fill="#fff" fill-opacity=".55"/><circle cx="372.5" cy="252.5" r="1.1"/><circle cx="372.5" cy="256.8" r="2.1" fill="#fff" fill-opacity=".55"/><circle cx="372.5" cy="256.8" r="1.1"/><circle cx="394.1" cy="254.9" r="2.1" fill="#fff" fill-opacity=".55"/><circle cx="394.1" cy="254.9" r="1.1"/><circle cx="381.8" cy="263.5" r="2.1" fill="#fff" fill-opacity=".55"/><circle cx="381.8" cy="263.5" r="1.1"/><circle cx="361.1" cy="250.3" r="2.1" fill="#fff" fill-opacity=".55"/><circle cx="361.1" cy="250.3" r="1.1"/><circle cx="363.7" cy="251.5" r="2.1" fill="#fff" fill-opacity=".55"/><circle cx="363.7" cy="251.5" r="1.1"/><circle cx="366.2" cy="250.3" r="2.1" fill="#fff" fill-opacity=".55"/><circle cx="366.2" cy="250.3" r="1.1"/><circle cx="368.1" cy="249.6" r="2.1" fill="#fff" fill-opacity=".55"/><circle cx="368.1" cy="249.6" r="1.1"/><circle cx="364.9" cy="252.8" r="2.1" fill="#fff" fill-opacity=".55"/><circle cx="364.9" cy="252.8" r="1.1"/><circle cx="361.8" cy="253.4" r="2.1" fill="#fff" fill-opacity=".55"/><circle cx="361.8" cy="253.4" r="1.1"/><circle cx="360.5" cy="254.7" r="2.1" fill="#fff" fill-opacity=".55"/><circle cx="360.5" cy="254.7" r="1.1"/><circle cx="366.8" cy="255.3" r="2.1" fill="#fff" fill-opacity=".55"/><circle cx="366.8" cy="255.3" r="1.1"/><circle cx="367.5" cy="257.2" r="2.1" fill="#fff" fill-opacity=".55"/><circle cx="367.5" cy="257.2" r="1.1"/><circle cx="349.7" cy="252.8" r="2.1" fill="#fff" fill-opacity=".55"/><circle cx="349.7" cy="252.8" r="1.1"/><circle cx="354.4" cy="252.8" r="2.1" fill="#fff" fill-opacity=".55"/><circle cx="354.4" cy="252.8" r="1.1"/><circle cx="356.1" cy="253.7" r="2.1" fill="#fff" fill-opacity=".55"/><circle cx="356.1" cy="253.7" r="1.1"/><circle cx="353.5" cy="256.3" r="2.1" fill="#fff" fill-opacity=".55"/><circle cx="353.5" cy="256.3" r="1.1"/><circle cx="351.0" cy="258.1" r="2.1" fill="#fff" fill-opacity=".55"/><circle cx="351.0" cy="258.1" r="1.1"/><circle cx="347.0" cy="258.9" r="2.1" fill="#fff" fill-opacity=".55"/><circle cx="347.0" cy="258.9" r="1.1"/><circle cx="348.5" cy="259.7" r="2.1" fill="#fff" fill-opacity=".55"/><circle cx="348.5" cy="259.7" r="1.1"/><circle cx="359.9" cy="258.1" r="2.1" fill="#fff" fill-opacity=".55"/><circle cx="359.9" cy="258.1" r="1.1"/><circle cx="369.4" cy="260.1" r="2.1" fill="#fff" fill-opacity=".55"/><circle cx="369.4" cy="260.1" r="1.1"/><circle cx="372.2" cy="260.8" r="2.1" fill="#fff" fill-opacity=".55"/><circle cx="372.2" cy="260.8" r="1.1"/><circle cx="357.3" cy="261.0" r="2.1" fill="#fff" fill-opacity=".55"/><circle cx="357.3" cy="261.0" r="1.1"/><circle cx="354.8" cy="262.7" r="2.1" fill="#fff" fill-opacity=".55"/><circle cx="354.8" cy="262.7" r="1.1"/><circle cx="359.9" cy="262.9" r="2.1" fill="#fff" fill-opacity=".55"/><circle cx="359.9" cy="262.9" r="1.1"/><circle cx="350.4" cy="264.4" r="2.1" fill="#fff" fill-opacity=".55"/><circle cx="350.4" cy="264.4" r="1.1"/><circle cx="347.6" cy="265.7" r="2.1" fill="#fff" fill-opacity=".55"/><circle cx="347.6" cy="265.7" r="1.1"/><circle cx="345.3" cy="266.7" r="2.1" fill="#fff" fill-opacity=".55"/><circle cx="345.3" cy="266.7" r="1.1"/><circle cx="349.7" cy="267.0" r="2.1" fill="#fff" fill-opacity=".55"/><circle cx="349.7" cy="267.0" r="1.1"/><circle cx="354.4" cy="265.7" r="2.1" fill="#fff" fill-opacity=".55"/><circle cx="354.4" cy="265.7" r="1.1"/><circle cx="363.9" cy="267.3" r="2.1" fill="#fff" fill-opacity=".55"/><circle cx="363.9" cy="267.3" r="1.1"/><circle cx="361.1" cy="268.9" r="2.1" fill="#fff" fill-opacity=".55"/><circle cx="361.1" cy="268.9" r="1.1"/><circle cx="347.6" cy="272.0" r="2.1" fill="#fff" fill-opacity=".55"/><circle cx="347.6" cy="272.0" r="1.1"/><circle cx="349.1" cy="273.7" r="2.1" fill="#fff" fill-opacity=".55"/><circle cx="349.1" cy="273.7" r="1.1"/><circle cx="355.8" cy="271.5" r="2.1" fill="#fff" fill-opacity=".55"/><circle cx="355.8" cy="271.5" r="1.1"/><circle cx="351.6" cy="275.8" r="2.1" fill="#fff" fill-opacity=".55"/><circle cx="351.6" cy="275.8" r="1.1"/><circle cx="345.9" cy="276.8" r="2.1" fill="#fff" fill-opacity=".55"/><circle cx="345.9" cy="276.8" r="1.1"/><circle cx="342.2" cy="274.6" r="2.1" fill="#fff" fill-opacity=".55"/><circle cx="342.2" cy="274.6" r="1.1"/><circle cx="339.6" cy="274.9" r="2.1" fill="#fff" fill-opacity=".55"/><circle cx="339.6" cy="274.9" r="1.1"/><circle cx="347.6" cy="281.9" r="2.1" fill="#fff" fill-opacity=".55"/><circle cx="347.6" cy="281.9" r="1.1"/><circle cx="358.6" cy="280.4" r="2.1" fill="#fff" fill-opacity=".55"/><circle cx="358.6" cy="280.4" r="1.1"/><circle cx="372.8" cy="274.9" r="2.1" fill="#fff" fill-opacity=".55"/><circle cx="372.8" cy="274.9" r="1.1"/><circle cx="392.2" cy="272.2" r="2.1" fill="#fff" fill-opacity=".55"/><circle cx="392.2" cy="272.2" r="1.1"/><circle cx="344.9" cy="268.5" r="2.1" fill="#fff" fill-opacity=".55"/><circle cx="344.9" cy="268.5" r="1.1"/>
</g>
<g fill="#a9a826">
<circle cx="324.1" cy="266.7" r="2.1" fill="#fff" fill-opacity=".55"/><circle cx="324.1" cy="266.7" r="1.1"/><circle cx="328.9" cy="267.3" r="2.1" fill="#fff" fill-opacity=".55"/><circle cx="328.9" cy="267.3" r="1.1"/><circle cx="326.3" cy="269.9" r="2.1" fill="#fff" fill-opacity=".55"/><circle cx="326.3" cy="269.9" r="1.1"/><circle cx="329.5" cy="271.5" r="2.1" fill="#fff" fill-opacity=".55"/><circle cx="329.5" cy="271.5" r="1.1"/><circle cx="324.4" cy="274.9" r="2.1" fill="#fff" fill-opacity=".55"/><circle cx="324.4" cy="274.9" r="1.1"/><circle cx="336.5" cy="274.3" r="2.1" fill="#fff" fill-opacity=".55"/><circle cx="336.5" cy="274.3" r="1.1"/><circle cx="339.0" cy="277.8" r="2.1" fill="#fff" fill-opacity=".55"/><circle cx="339.0" cy="277.8" r="1.1"/><circle cx="328.2" cy="277.8" r="2.1" fill="#fff" fill-opacity=".55"/><circle cx="328.2" cy="277.8" r="1.1"/><circle cx="322.5" cy="278.1" r="2.1" fill="#fff" fill-opacity=".55"/><circle cx="322.5" cy="278.1" r="1.1"/><circle cx="330.8" cy="279.4" r="2.1" fill="#fff" fill-opacity=".55"/><circle cx="330.8" cy="279.4" r="1.1"/><circle cx="333.9" cy="279.4" r="2.1" fill="#fff" fill-opacity=".55"/><circle cx="333.9" cy="279.4" r="1.1"/><circle cx="333.3" cy="283.2" r="2.1" fill="#fff" fill-opacity=".55"/><circle cx="333.3" cy="283.2" r="1.1"/><circle cx="311.6" cy="260.9" r="2.1" fill="#fff" fill-opacity=".55"/><circle cx="311.6" cy="260.9" r="1.1"/><circle cx="305.7" cy="267.0" r="2.1" fill="#fff" fill-opacity=".55"/><circle cx="305.7" cy="267.0" r="1.1"/><circle cx="278.1" cy="271.3" r="2.1" fill="#fff" fill-opacity=".55"/><circle cx="278.1" cy="271.3" r="1.1"/><circle cx="281.6" cy="273.9" r="2.1" fill="#fff" fill-opacity=".55"/><circle cx="281.6" cy="273.9" r="1.1"/><circle cx="305.3" cy="272.3" r="2.1" fill="#fff" fill-opacity=".55"/><circle cx="305.3" cy="272.3" r="1.1"/><circle cx="309.5" cy="271.4" r="2.1" fill="#fff" fill-opacity=".55"/><circle cx="309.5" cy="271.4" r="1.1"/><circle cx="311.6" cy="271.4" r="2.1" fill="#fff" fill-opacity=".55"/><circle cx="311.6" cy="271.4" r="1.1"/><circle cx="315.4" cy="271.6" r="2.1" fill="#fff" fill-opacity=".55"/><circle cx="315.4" cy="271.6" r="1.1"/><circle cx="318.4" cy="273.9" r="2.1" fill="#fff" fill-opacity=".55"/><circle cx="318.4" cy="273.9" r="1.1"/><circle cx="288.2" cy="277.0" r="2.1" fill="#fff" fill-opacity=".55"/><circle cx="288.2" cy="277.0" r="1.1"/><circle cx="295.8" cy="275.7" r="2.1" fill="#fff" fill-opacity=".55"/><circle cx="295.8" cy="275.7" r="1.1"/><circle cx="293.7" cy="279.0" r="2.1" fill="#fff" fill-opacity=".55"/><circle cx="293.7" cy="279.0" r="1.1"/><circle cx="277.8" cy="278.6" r="2.1" fill="#fff" fill-opacity=".55"/><circle cx="277.8" cy="278.6" r="1.1"/><circle cx="311.0" cy="276.7" r="2.1" fill="#fff" fill-opacity=".55"/><circle cx="311.0" cy="276.7" r="1.1"/><circle cx="313.9" cy="277.6" r="2.1" fill="#fff" fill-opacity=".55"/><circle cx="313.9" cy="277.6" r="1.1"/><circle cx="317.1" cy="278.0" r="2.1" fill="#fff" fill-opacity=".55"/><circle cx="317.1" cy="278.0" r="1.1"/><circle cx="331.0" cy="277.6" r="2.1" fill="#fff" fill-opacity=".55"/><circle cx="331.0" cy="277.6" r="1.1"/><circle cx="304.7" cy="278.4" r="2.1" fill="#fff" fill-opacity=".55"/><circle cx="304.7" cy="278.4" r="1.1"/><circle cx="308.2" cy="279.2" r="2.1" fill="#fff" fill-opacity=".55"/><circle cx="308.2" cy="279.2" r="1.1"/><circle cx="312.0" cy="280.5" r="2.1" fill="#fff" fill-opacity=".55"/><circle cx="312.0" cy="280.5" r="1.1"/><circle cx="315.8" cy="280.8" r="2.1" fill="#fff" fill-opacity=".55"/><circle cx="315.8" cy="280.8" r="1.1"/><circle cx="319.6" cy="279.9" r="2.1" fill="#fff" fill-opacity=".55"/><circle cx="319.6" cy="279.9" r="1.1"/><circle cx="323.4" cy="280.3" r="2.1" fill="#fff" fill-opacity=".55"/><circle cx="323.4" cy="280.3" r="1.1"/><circle cx="277.2" cy="283.7" r="2.1" fill="#fff" fill-opacity=".55"/><circle cx="277.2" cy="283.7" r="1.1"/><circle cx="300.3" cy="290.0" r="2.1" fill="#fff" fill-opacity=".55"/><circle cx="300.3" cy="290.0" r="1.1"/><circle cx="295.8" cy="292.5" r="2.1" fill="#fff" fill-opacity=".55"/><circle cx="295.8" cy="292.5" r="1.1"/><circle cx="294.6" cy="295.1" r="2.1" fill="#fff" fill-opacity=".55"/><circle cx="294.6" cy="295.1" r="1.1"/><circle cx="302.5" cy="294.2" r="2.1" fill="#fff" fill-opacity=".55"/><circle cx="302.5" cy="294.2" r="1.1"/><circle cx="309.1" cy="292.5" r="2.1" fill="#fff" fill-opacity=".55"/><circle cx="309.1" cy="292.5" r="1.1"/><circle cx="315.6" cy="291.6" r="2.1" fill="#fff" fill-opacity=".55"/><circle cx="315.6" cy="291.6" r="1.1"/><circle cx="321.9" cy="291.9" r="2.1" fill="#fff" fill-opacity=".55"/><circle cx="321.9" cy="291.9" r="1.1"/><circle cx="331.6" cy="292.3" r="2.1" fill="#fff" fill-opacity=".55"/><circle cx="331.6" cy="292.3" r="1.1"/><circle cx="334.2" cy="291.9" r="2.1" fill="#fff" fill-opacity=".55"/><circle cx="334.2" cy="291.9" r="1.1"/><circle cx="336.7" cy="292.3" r="2.1" fill="#fff" fill-opacity=".55"/><circle cx="336.7" cy="292.3" r="1.1"/><circle cx="311.4" cy="296.1" r="2.1" fill="#fff" fill-opacity=".55"/><circle cx="311.4" cy="296.1" r="1.1"/><circle cx="319.0" cy="296.3" r="2.1" fill="#fff" fill-opacity=".55"/><circle cx="319.0" cy="296.3" r="1.1"/><circle cx="322.8" cy="295.4" r="2.1" fill="#fff" fill-opacity=".55"/><circle cx="322.8" cy="295.4" r="1.1"/><circle cx="293.0" cy="298.9" r="2.1" fill="#fff" fill-opacity=".55"/><circle cx="293.0" cy="298.9" r="1.1"/><circle cx="304.4" cy="298.9" r="2.1" fill="#fff" fill-opacity=".55"/><circle cx="304.4" cy="298.9" r="1.1"/><circle cx="340.5" cy="295.7" r="2.1" fill="#fff" fill-opacity=".55"/><circle cx="340.5" cy="295.7" r="1.1"/><circle cx="341.1" cy="298.9" r="2.1" fill="#fff" fill-opacity=".55"/><circle cx="341.1" cy="298.9" r="1.1"/><circle cx="283.4" cy="301.3" r="2.1" fill="#fff" fill-opacity=".55"/><circle cx="283.4" cy="301.3" r="1.1"/><circle cx="281.4" cy="304.5" r="2.1" fill="#fff" fill-opacity=".55"/><circle cx="281.4" cy="304.5" r="1.1"/><circle cx="347.1" cy="291.4" r="2.1" fill="#fff" fill-opacity=".55"/><circle cx="347.1" cy="291.4" r="1.1"/><circle cx="295.4" cy="301.8" r="2.1" fill="#fff" fill-opacity=".55"/><circle cx="295.4" cy="301.8" r="1.1"/><circle cx="290.4" cy="302.8" r="2.1" fill="#fff" fill-opacity=".55"/><circle cx="290.4" cy="302.8" r="1.1"/><circle cx="304.1" cy="303.0" r="2.1" fill="#fff" fill-opacity=".55"/><circle cx="304.1" cy="303.0" r="1.1"/><circle cx="284.7" cy="308.9" r="2.1" fill="#fff" fill-opacity=".55"/><circle cx="284.7" cy="308.9" r="1.1"/><circle cx="289.4" cy="309.1" r="2.1" fill="#fff" fill-opacity=".55"/><circle cx="289.4" cy="309.1" r="1.1"/><circle cx="292.3" cy="307.5" r="2.1" fill="#fff" fill-opacity=".55"/><circle cx="292.3" cy="307.5" r="1.1"/><circle cx="291.6" cy="310.4" r="2.1" fill="#fff" fill-opacity=".55"/><circle cx="291.6" cy="310.4" r="1.1"/><circle cx="293.9" cy="309.4" r="2.1" fill="#fff" fill-opacity=".55"/><circle cx="293.9" cy="309.4" r="1.1"/><circle cx="299.9" cy="309.4" r="2.1" fill="#fff" fill-opacity=".55"/><circle cx="299.9" cy="309.4" r="1.1"/><circle cx="304.6" cy="309.7" r="2.1" fill="#fff" fill-opacity=".55"/><circle cx="304.6" cy="309.7" r="1.1"/><circle cx="296.7" cy="312.3" r="2.1" fill="#fff" fill-opacity=".55"/><circle cx="296.7" cy="312.3" r="1.1"/><circle cx="291.4" cy="313.9" r="2.1" fill="#fff" fill-opacity=".55"/><circle cx="291.4" cy="313.9" r="1.1"/><circle cx="293.9" cy="315.4" r="2.1" fill="#fff" fill-opacity=".55"/><circle cx="293.9" cy="315.4" r="1.1"/><circle cx="289.7" cy="316.7" r="2.1" fill="#fff" fill-opacity=".55"/><circle cx="289.7" cy="316.7" r="1.1"/><circle cx="306.8" cy="281.0" r="2.1" fill="#fff" fill-opacity=".55"/><circle cx="306.8" cy="281.0" r="1.1"/><circle cx="310.6" cy="282.5" r="2.1" fill="#fff" fill-opacity=".55"/><circle cx="310.6" cy="282.5" r="1.1"/><circle cx="327.1" cy="281.9" r="2.1" fill="#fff" fill-opacity=".55"/><circle cx="327.1" cy="281.9" r="1.1"/>
</g>
<g fill="#27a9bd">
<circle cx="255.7" cy="261.5" r="2.1" fill="#fff" fill-opacity=".55"/><circle cx="255.7" cy="261.5" r="1.1"/><circle cx="252.8" cy="267.0" r="2.1" fill="#fff" fill-opacity=".55"/><circle cx="252.8" cy="267.0" r="1.1"/><circle cx="251.3" cy="278.4" r="2.1" fill="#fff" fill-opacity=".55"/><circle cx="251.3" cy="278.4" r="1.1"/><circle cx="266.5" cy="283.7" r="2.1" fill="#fff" fill-opacity=".55"/><circle cx="266.5" cy="283.7" r="1.1"/><circle cx="264.6" cy="285.8" r="2.1" fill="#fff" fill-opacity=".55"/><circle cx="264.6" cy="285.8" r="1.1"/><circle cx="270.9" cy="286.6" r="2.1" fill="#fff" fill-opacity=".55"/><circle cx="270.9" cy="286.6" r="1.1"/><circle cx="275.7" cy="287.8" r="2.1" fill="#fff" fill-opacity=".55"/><circle cx="275.7" cy="287.8" r="1.1"/><circle cx="257.8" cy="290.0" r="2.1" fill="#fff" fill-opacity=".55"/><circle cx="257.8" cy="290.0" r="1.1"/><circle cx="262.0" cy="290.0" r="2.1" fill="#fff" fill-opacity=".55"/><circle cx="262.0" cy="290.0" r="1.1"/><circle cx="266.8" cy="291.3" r="2.1" fill="#fff" fill-opacity=".55"/><circle cx="266.8" cy="291.3" r="1.1"/><circle cx="278.9" cy="290.0" r="2.1" fill="#fff" fill-opacity=".55"/><circle cx="278.9" cy="290.0" r="1.1"/><circle cx="275.9" cy="292.5" r="2.1" fill="#fff" fill-opacity=".55"/><circle cx="275.9" cy="292.5" r="1.1"/><circle cx="253.8" cy="295.7" r="2.1" fill="#fff" fill-opacity=".55"/><circle cx="253.8" cy="295.7" r="1.1"/><circle cx="259.5" cy="295.3" r="2.1" fill="#fff" fill-opacity=".55"/><circle cx="259.5" cy="295.3" r="1.1"/><circle cx="264.6" cy="295.7" r="2.1" fill="#fff" fill-opacity=".55"/><circle cx="264.6" cy="295.7" r="1.1"/><circle cx="268.1" cy="295.3" r="2.1" fill="#fff" fill-opacity=".55"/><circle cx="268.1" cy="295.3" r="1.1"/><circle cx="272.2" cy="295.7" r="2.1" fill="#fff" fill-opacity=".55"/><circle cx="272.2" cy="295.7" r="1.1"/><circle cx="274.1" cy="297.0" r="2.1" fill="#fff" fill-opacity=".55"/><circle cx="274.1" cy="297.0" r="1.1"/><circle cx="230.5" cy="256.1" r="2.1" fill="#fff" fill-opacity=".55"/><circle cx="230.5" cy="256.1" r="1.1"/><circle cx="229.0" cy="263.0" r="2.1" fill="#fff" fill-opacity=".55"/><circle cx="229.0" cy="263.0" r="1.1"/><circle cx="239.1" cy="266.3" r="2.1" fill="#fff" fill-opacity=".55"/><circle cx="239.1" cy="266.3" r="1.1"/><circle cx="240.0" cy="270.3" r="2.1" fill="#fff" fill-opacity=".55"/><circle cx="240.0" cy="270.3" r="1.1"/><circle cx="236.2" cy="273.1" r="2.1" fill="#fff" fill-opacity=".55"/><circle cx="236.2" cy="273.1" r="1.1"/><circle cx="237.2" cy="275.8" r="2.1" fill="#fff" fill-opacity=".55"/><circle cx="237.2" cy="275.8" r="1.1"/><circle cx="228.4" cy="274.5" r="2.1" fill="#fff" fill-opacity=".55"/><circle cx="228.4" cy="274.5" r="1.1"/><circle cx="222.9" cy="278.5" r="2.1" fill="#fff" fill-opacity=".55"/><circle cx="222.9" cy="278.5" r="1.1"/><circle cx="230.9" cy="283.6" r="2.1" fill="#fff" fill-opacity=".55"/><circle cx="230.9" cy="283.6" r="1.1"/><circle cx="235.6" cy="284.2" r="2.1" fill="#fff" fill-opacity=".55"/><circle cx="235.6" cy="284.2" r="1.1"/><circle cx="227.3" cy="287.4" r="2.1" fill="#fff" fill-opacity=".55"/><circle cx="227.3" cy="287.4" r="1.1"/><circle cx="230.9" cy="287.8" r="2.1" fill="#fff" fill-opacity=".55"/><circle cx="230.9" cy="287.8" r="1.1"/><circle cx="224.8" cy="289.9" r="2.1" fill="#fff" fill-opacity=".55"/><circle cx="224.8" cy="289.9" r="1.1"/><circle cx="219.7" cy="289.7" r="2.1" fill="#fff" fill-opacity=".55"/><circle cx="219.7" cy="289.7" r="1.1"/><circle cx="209.0" cy="293.4" r="2.1" fill="#fff" fill-opacity=".55"/><circle cx="209.0" cy="293.4" r="1.1"/><circle cx="239.7" cy="297.9" r="2.1" fill="#fff" fill-opacity=".55"/><circle cx="239.7" cy="297.9" r="1.1"/><circle cx="221.6" cy="301.3" r="2.1" fill="#fff" fill-opacity=".55"/><circle cx="221.6" cy="301.3" r="1.1"/><circle cx="258.4" cy="300.7" r="2.1" fill="#fff" fill-opacity=".55"/><circle cx="258.4" cy="300.7" r="1.1"/><circle cx="268.2" cy="300.7" r="2.1" fill="#fff" fill-opacity=".55"/><circle cx="268.2" cy="300.7" r="1.1"/><circle cx="265.6" cy="303.0" r="2.1" fill="#fff" fill-opacity=".55"/><circle cx="265.6" cy="303.0" r="1.1"/><circle cx="270.4" cy="303.9" r="2.1" fill="#fff" fill-opacity=".55"/><circle cx="270.4" cy="303.9" r="1.1"/><circle cx="223.5" cy="308.9" r="2.1" fill="#fff" fill-opacity=".55"/><circle cx="223.5" cy="308.9" r="1.1"/><circle cx="212.4" cy="313.3" r="2.1" fill="#fff" fill-opacity=".55"/><circle cx="212.4" cy="313.3" r="1.1"/><circle cx="234.3" cy="310.1" r="2.1" fill="#fff" fill-opacity=".55"/><circle cx="234.3" cy="310.1" r="1.1"/><circle cx="241.3" cy="310.4" r="2.1" fill="#fff" fill-opacity=".55"/><circle cx="241.3" cy="310.4" r="1.1"/><circle cx="247.2" cy="310.1" r="2.1" fill="#fff" fill-opacity=".55"/><circle cx="247.2" cy="310.1" r="1.1"/><circle cx="250.5" cy="309.5" r="2.1" fill="#fff" fill-opacity=".55"/><circle cx="250.5" cy="309.5" r="1.1"/><circle cx="250.5" cy="312.4" r="2.1" fill="#fff" fill-opacity=".55"/><circle cx="250.5" cy="312.4" r="1.1"/><circle cx="237.2" cy="312.7" r="2.1" fill="#fff" fill-opacity=".55"/><circle cx="237.2" cy="312.7" r="1.1"/><circle cx="243.8" cy="313.3" r="2.1" fill="#fff" fill-opacity=".55"/><circle cx="243.8" cy="313.3" r="1.1"/><circle cx="245.7" cy="315.2" r="2.1" fill="#fff" fill-opacity=".55"/><circle cx="245.7" cy="315.2" r="1.1"/><circle cx="239.1" cy="316.2" r="2.1" fill="#fff" fill-opacity=".55"/><circle cx="239.1" cy="316.2" r="1.1"/><circle cx="229.6" cy="317.5" r="2.1" fill="#fff" fill-opacity=".55"/><circle cx="229.6" cy="317.5" r="1.1"/><circle cx="236.6" cy="318.6" r="2.1" fill="#fff" fill-opacity=".55"/><circle cx="236.6" cy="318.6" r="1.1"/><circle cx="219.7" cy="320.3" r="2.1" fill="#fff" fill-opacity=".55"/><circle cx="219.7" cy="320.3" r="1.1"/><circle cx="223.2" cy="320.9" r="2.1" fill="#fff" fill-opacity=".55"/><circle cx="223.2" cy="320.9" r="1.1"/><circle cx="225.1" cy="321.8" r="2.1" fill="#fff" fill-opacity=".55"/><circle cx="225.1" cy="321.8" r="1.1"/><circle cx="212.4" cy="322.5" r="2.1" fill="#fff" fill-opacity=".55"/><circle cx="212.4" cy="322.5" r="1.1"/><circle cx="214.4" cy="324.4" r="2.1" fill="#fff" fill-opacity=".55"/><circle cx="214.4" cy="324.4" r="1.1"/><circle cx="231.8" cy="322.4" r="2.1" fill="#fff" fill-opacity=".55"/><circle cx="231.8" cy="322.4" r="1.1"/><circle cx="237.1" cy="322.4" r="2.1" fill="#fff" fill-opacity=".55"/><circle cx="237.1" cy="322.4" r="1.1"/><circle cx="245.3" cy="320.9" r="2.1" fill="#fff" fill-opacity=".55"/><circle cx="245.3" cy="320.9" r="1.1"/><circle cx="251.4" cy="318.4" r="2.1" fill="#fff" fill-opacity=".55"/><circle cx="251.4" cy="318.4" r="1.1"/><circle cx="258.0" cy="313.3" r="2.1" fill="#fff" fill-opacity=".55"/><circle cx="258.0" cy="313.3" r="1.1"/><circle cx="258.4" cy="316.7" r="2.1" fill="#fff" fill-opacity=".55"/><circle cx="258.4" cy="316.7" r="1.1"/><circle cx="259.2" cy="309.5" r="2.1" fill="#fff" fill-opacity=".55"/><circle cx="259.2" cy="309.5" r="1.1"/><circle cx="262.2" cy="312.7" r="2.1" fill="#fff" fill-opacity=".55"/><circle cx="262.2" cy="312.7" r="1.1"/><circle cx="264.1" cy="307.6" r="2.1" fill="#fff" fill-opacity=".55"/><circle cx="264.1" cy="307.6" r="1.1"/><circle cx="265.9" cy="311.1" r="2.1" fill="#fff" fill-opacity=".55"/><circle cx="265.9" cy="311.1" r="1.1"/><circle cx="263.4" cy="316.7" r="2.1" fill="#fff" fill-opacity=".55"/><circle cx="263.4" cy="316.7" r="1.1"/><circle cx="268.2" cy="318.7" r="2.1" fill="#fff" fill-opacity=".55"/><circle cx="268.2" cy="318.7" r="1.1"/><circle cx="272.3" cy="317.7" r="2.1" fill="#fff" fill-opacity=".55"/><circle cx="272.3" cy="317.7" r="1.1"/><circle cx="273.5" cy="315.4" r="2.1" fill="#fff" fill-opacity=".55"/><circle cx="273.5" cy="315.4" r="1.1"/><circle cx="264.7" cy="322.5" r="2.1" fill="#fff" fill-opacity=".55"/><circle cx="264.7" cy="322.5" r="1.1"/><circle cx="275.7" cy="323.0" r="2.1" fill="#fff" fill-opacity=".55"/><circle cx="275.7" cy="323.0" r="1.1"/><circle cx="283.7" cy="312.3" r="2.1" fill="#fff" fill-opacity=".55"/><circle cx="283.7" cy="312.3" r="1.1"/><circle cx="223.5" cy="326.8" r="2.1" fill="#fff" fill-opacity=".55"/><circle cx="223.5" cy="326.8" r="1.1"/><circle cx="231.5" cy="326.3" r="2.1" fill="#fff" fill-opacity=".55"/><circle cx="231.5" cy="326.3" r="1.1"/><circle cx="233.7" cy="329.1" r="2.1" fill="#fff" fill-opacity=".55"/><circle cx="233.7" cy="329.1" r="1.1"/><circle cx="241.3" cy="324.9" r="2.1" fill="#fff" fill-opacity=".55"/><circle cx="241.3" cy="324.9" r="1.1"/><circle cx="243.2" cy="323.4" r="2.1" fill="#fff" fill-opacity=".55"/><circle cx="243.2" cy="323.4" r="1.1"/><circle cx="245.3" cy="325.7" r="2.1" fill="#fff" fill-opacity=".55"/><circle cx="245.3" cy="325.7" r="1.1"/><circle cx="248.5" cy="328.5" r="2.1" fill="#fff" fill-opacity=".55"/><circle cx="248.5" cy="328.5" r="1.1"/><circle cx="251.4" cy="327.5" r="2.1" fill="#fff" fill-opacity=".55"/><circle cx="251.4" cy="327.5" r="1.1"/><circle cx="254.9" cy="330.4" r="2.1" fill="#fff" fill-opacity=".55"/><circle cx="254.9" cy="330.4" r="1.1"/><circle cx="247.0" cy="331.6" r="2.1" fill="#fff" fill-opacity=".55"/><circle cx="247.0" cy="331.6" r="1.1"/><circle cx="248.5" cy="333.8" r="2.1" fill="#fff" fill-opacity=".55"/><circle cx="248.5" cy="333.8" r="1.1"/><circle cx="232.4" cy="333.2" r="2.1" fill="#fff" fill-opacity=".55"/><circle cx="232.4" cy="333.2" r="1.1"/><circle cx="237.1" cy="335.2" r="2.1" fill="#fff" fill-opacity=".55"/><circle cx="237.1" cy="335.2" r="1.1"/><circle cx="242.5" cy="335.2" r="2.1" fill="#fff" fill-opacity=".55"/><circle cx="242.5" cy="335.2" r="1.1"/><circle cx="209.0" cy="329.1" r="2.1" fill="#fff" fill-opacity=".55"/><circle cx="209.0" cy="329.1" r="1.1"/><circle cx="215.7" cy="333.2" r="2.1" fill="#fff" fill-opacity=".55"/><circle cx="215.7" cy="333.2" r="1.1"/><circle cx="218.1" cy="339.9" r="2.1" fill="#fff" fill-opacity=".55"/><circle cx="218.1" cy="339.9" r="1.1"/><circle cx="223.5" cy="341.5" r="2.1" fill="#fff" fill-opacity=".55"/><circle cx="223.5" cy="341.5" r="1.1"/><circle cx="225.1" cy="340.5" r="2.1" fill="#fff" fill-opacity=".55"/><circle cx="225.1" cy="340.5" r="1.1"/><circle cx="230.8" cy="339.9" r="2.1" fill="#fff" fill-opacity=".55"/><circle cx="230.8" cy="339.9" r="1.1"/><circle cx="233.0" cy="341.8" r="2.1" fill="#fff" fill-opacity=".55"/><circle cx="233.0" cy="341.8" r="1.1"/><circle cx="226.3" cy="345.6" r="2.1" fill="#fff" fill-opacity=".55"/><circle cx="226.3" cy="345.6" r="1.1"/><circle cx="229.0" cy="348.1" r="2.1" fill="#fff" fill-opacity=".55"/><circle cx="229.0" cy="348.1" r="1.1"/><circle cx="220.4" cy="347.1" r="2.1" fill="#fff" fill-opacity=".55"/><circle cx="220.4" cy="347.1" r="1.1"/><circle cx="221.3" cy="349.1" r="2.1" fill="#fff" fill-opacity=".55"/><circle cx="221.3" cy="349.1" r="1.1"/><circle cx="218.1" cy="348.1" r="2.1" fill="#fff" fill-opacity=".55"/><circle cx="218.1" cy="348.1" r="1.1"/><circle cx="239.1" cy="349.4" r="2.1" fill="#fff" fill-opacity=".55"/><circle cx="239.1" cy="349.4" r="1.1"/><circle cx="249.5" cy="338.6" r="2.1" fill="#fff" fill-opacity=".55"/><circle cx="249.5" cy="338.6" r="1.1"/><circle cx="248.5" cy="340.3" r="2.1" fill="#fff" fill-opacity=".55"/><circle cx="248.5" cy="340.3" r="1.1"/><circle cx="257.3" cy="334.4" r="2.1" fill="#fff" fill-opacity=".55"/><circle cx="257.3" cy="334.4" r="1.1"/><circle cx="263.2" cy="329.4" r="2.1" fill="#fff" fill-opacity=".55"/><circle cx="263.2" cy="329.4" r="1.1"/><circle cx="267.0" cy="333.3" r="2.1" fill="#fff" fill-opacity=".55"/><circle cx="267.0" cy="333.3" r="1.1"/><circle cx="269.1" cy="330.0" r="2.1" fill="#fff" fill-opacity=".55"/><circle cx="269.1" cy="330.0" r="1.1"/><circle cx="271.0" cy="330.4" r="2.1" fill="#fff" fill-opacity=".55"/><circle cx="271.0" cy="330.4" r="1.1"/><circle cx="271.6" cy="334.2" r="2.1" fill="#fff" fill-opacity=".55"/><circle cx="271.6" cy="334.2" r="1.1"/><circle cx="274.2" cy="332.9" r="2.1" fill="#fff" fill-opacity=".55"/><circle cx="274.2" cy="332.9" r="1.1"/><circle cx="277.7" cy="329.1" r="2.1" fill="#fff" fill-opacity=".55"/><circle cx="277.7" cy="329.1" r="1.1"/>
</g>
<g fill="#ea2f45">
<circle cx="195.9" cy="300.7" r="2.1" fill="#fff" fill-opacity=".55"/><circle cx="195.9" cy="300.7" r="1.1"/><circle cx="192.8" cy="303.5" r="2.1" fill="#fff" fill-opacity=".55"/><circle cx="192.8" cy="303.5" r="1.1"/><circle cx="200.8" cy="318.4" r="2.1" fill="#fff" fill-opacity=".55"/><circle cx="200.8" cy="318.4" r="1.1"/><circle cx="196.6" cy="326.3" r="2.1" fill="#fff" fill-opacity=".55"/><circle cx="196.6" cy="326.3" r="1.1"/><circle cx="190.6" cy="327.5" r="2.1" fill="#fff" fill-opacity=".55"/><circle cx="190.6" cy="327.5" r="1.1"/><circle cx="192.5" cy="330.8" r="2.1" fill="#fff" fill-opacity=".55"/><circle cx="192.5" cy="330.8" r="1.1"/><circle cx="199.9" cy="330.4" r="2.1" fill="#fff" fill-opacity=".55"/><circle cx="199.9" cy="330.4" r="1.1"/><circle cx="204.9" cy="329.1" r="2.1" fill="#fff" fill-opacity=".55"/><circle cx="204.9" cy="329.1" r="1.1"/><circle cx="192.8" cy="333.3" r="2.1" fill="#fff" fill-opacity=".55"/><circle cx="192.8" cy="333.3" r="1.1"/><circle cx="94.0" cy="316.9" r="2.1" fill="#fff" fill-opacity=".55"/><circle cx="94.0" cy="316.9" r="1.1"/><circle cx="99.4" cy="319.5" r="2.1" fill="#fff" fill-opacity=".55"/><circle cx="99.4" cy="319.5" r="1.1"/><circle cx="111.1" cy="317.5" r="2.1" fill="#fff" fill-opacity=".55"/><circle cx="111.1" cy="317.5" r="1.1"/><circle cx="128.6" cy="322.1" r="2.1" fill="#fff" fill-opacity=".55"/><circle cx="128.6" cy="322.1" r="1.1"/><circle cx="134.4" cy="322.1" r="2.1" fill="#fff" fill-opacity=".55"/><circle cx="134.4" cy="322.1" r="1.1"/><circle cx="137.4" cy="320.7" r="2.1" fill="#fff" fill-opacity=".55"/><circle cx="137.4" cy="320.7" r="1.1"/><circle cx="141.2" cy="320.7" r="2.1" fill="#fff" fill-opacity=".55"/><circle cx="141.2" cy="320.7" r="1.1"/><circle cx="144.6" cy="312.7" r="2.1" fill="#fff" fill-opacity=".55"/><circle cx="144.6" cy="312.7" r="1.1"/><circle cx="149.4" cy="320.3" r="2.1" fill="#fff" fill-opacity=".55"/><circle cx="149.4" cy="320.3" r="1.1"/><circle cx="186.3" cy="286.5" r="2.1" fill="#fff" fill-opacity=".55"/><circle cx="186.3" cy="286.5" r="1.1"/><circle cx="185.1" cy="294.0" r="2.1" fill="#fff" fill-opacity=".55"/><circle cx="185.1" cy="294.0" r="1.1"/><circle cx="187.1" cy="305.5" r="2.1" fill="#fff" fill-opacity=".55"/><circle cx="187.1" cy="305.5" r="1.1"/><circle cx="94.7" cy="324.4" r="2.1" fill="#fff" fill-opacity=".55"/><circle cx="94.7" cy="324.4" r="1.1"/><circle cx="84.6" cy="327.9" r="2.1" fill="#fff" fill-opacity=".55"/><circle cx="84.6" cy="327.9" r="1.1"/><circle cx="87.1" cy="332.4" r="2.1" fill="#fff" fill-opacity=".55"/><circle cx="87.1" cy="332.4" r="1.1"/><circle cx="97.5" cy="328.9" r="2.1" fill="#fff" fill-opacity=".55"/><circle cx="97.5" cy="328.9" r="1.1"/><circle cx="104.0" cy="328.3" r="2.1" fill="#fff" fill-opacity=".55"/><circle cx="104.0" cy="328.3" r="1.1"/><circle cx="105.8" cy="328.6" r="2.1" fill="#fff" fill-opacity=".55"/><circle cx="105.8" cy="328.6" r="1.1"/><circle cx="106.1" cy="330.6" r="2.1" fill="#fff" fill-opacity=".55"/><circle cx="106.1" cy="330.6" r="1.1"/><circle cx="102.0" cy="333.2" r="2.1" fill="#fff" fill-opacity=".55"/><circle cx="102.0" cy="333.2" r="1.1"/><circle cx="94.7" cy="335.9" r="2.1" fill="#fff" fill-opacity=".55"/><circle cx="94.7" cy="335.9" r="1.1"/><circle cx="104.0" cy="335.9" r="2.1" fill="#fff" fill-opacity=".55"/><circle cx="104.0" cy="335.9" r="1.1"/><circle cx="114.9" cy="326.3" r="2.1" fill="#fff" fill-opacity=".55"/><circle cx="114.9" cy="326.3" r="1.1"/><circle cx="123.0" cy="326.3" r="2.1" fill="#fff" fill-opacity=".55"/><circle cx="123.0" cy="326.3" r="1.1"/><circle cx="120.7" cy="328.6" r="2.1" fill="#fff" fill-opacity=".55"/><circle cx="120.7" cy="328.6" r="1.1"/><circle cx="113.0" cy="330.9" r="2.1" fill="#fff" fill-opacity=".55"/><circle cx="113.0" cy="330.9" r="1.1"/><circle cx="133.6" cy="329.7" r="2.1" fill="#fff" fill-opacity=".55"/><circle cx="133.6" cy="329.7" r="1.1"/><circle cx="143.8" cy="325.6" r="2.1" fill="#fff" fill-opacity=".55"/><circle cx="143.8" cy="325.6" r="1.1"/><circle cx="149.4" cy="326.8" r="2.1" fill="#fff" fill-opacity=".55"/><circle cx="149.4" cy="326.8" r="1.1"/><circle cx="151.4" cy="326.0" r="2.1" fill="#fff" fill-opacity=".55"/><circle cx="151.4" cy="326.0" r="1.1"/><circle cx="160.1" cy="328.3" r="2.1" fill="#fff" fill-opacity=".55"/><circle cx="160.1" cy="328.3" r="1.1"/><circle cx="166.9" cy="327.1" r="2.1" fill="#fff" fill-opacity=".55"/><circle cx="166.9" cy="327.1" r="1.1"/><circle cx="171.6" cy="329.7" r="2.1" fill="#fff" fill-opacity=".55"/><circle cx="171.6" cy="329.7" r="1.1"/><circle cx="171.1" cy="332.4" r="2.1" fill="#fff" fill-opacity=".55"/><circle cx="171.1" cy="332.4" r="1.1"/><circle cx="173.1" cy="333.9" r="2.1" fill="#fff" fill-opacity=".55"/><circle cx="173.1" cy="333.9" r="1.1"/><circle cx="178.7" cy="328.6" r="2.1" fill="#fff" fill-opacity=".55"/><circle cx="178.7" cy="328.6" r="1.1"/><circle cx="181.8" cy="328.9" r="2.1" fill="#fff" fill-opacity=".55"/><circle cx="181.8" cy="328.9" r="1.1"/><circle cx="183.8" cy="331.6" r="2.1" fill="#fff" fill-opacity=".55"/><circle cx="183.8" cy="331.6" r="1.1"/><circle cx="181.5" cy="334.4" r="2.1" fill="#fff" fill-opacity=".55"/><circle cx="181.5" cy="334.4" r="1.1"/><circle cx="188.9" cy="333.9" r="2.1" fill="#fff" fill-opacity=".55"/><circle cx="188.9" cy="333.9" r="1.1"/><circle cx="188.3" cy="335.9" r="2.1" fill="#fff" fill-opacity=".55"/><circle cx="188.3" cy="335.9" r="1.1"/><circle cx="188.6" cy="338.2" r="2.1" fill="#fff" fill-opacity=".55"/><circle cx="188.6" cy="338.2" r="1.1"/><circle cx="166.9" cy="335.9" r="2.1" fill="#fff" fill-opacity=".55"/><circle cx="166.9" cy="335.9" r="1.1"/><circle cx="181.0" cy="338.5" r="2.1" fill="#fff" fill-opacity=".55"/><circle cx="181.0" cy="338.5" r="1.1"/><circle cx="108.9" cy="339.2" r="2.1" fill="#fff" fill-opacity=".55"/><circle cx="108.9" cy="339.2" r="1.1"/><circle cx="114.9" cy="343.0" r="2.1" fill="#fff" fill-opacity=".55"/><circle cx="114.9" cy="343.0" r="1.1"/><circle cx="110.4" cy="345.3" r="2.1" fill="#fff" fill-opacity=".55"/><circle cx="110.4" cy="345.3" r="1.1"/><circle cx="99.4" cy="346.4" r="2.1" fill="#fff" fill-opacity=".55"/><circle cx="99.4" cy="346.4" r="1.1"/><circle cx="83.0" cy="346.1" r="2.1" fill="#fff" fill-opacity=".55"/><circle cx="83.0" cy="346.1" r="1.1"/><circle cx="114.2" cy="348.1" r="2.1" fill="#fff" fill-opacity=".55"/><circle cx="114.2" cy="348.1" r="1.1"/><circle cx="119.8" cy="349.4" r="2.1" fill="#fff" fill-opacity=".55"/><circle cx="119.8" cy="349.4" r="1.1"/><circle cx="126.3" cy="345.8" r="2.1" fill="#fff" fill-opacity=".55"/><circle cx="126.3" cy="345.8" r="1.1"/><circle cx="133.2" cy="345.8" r="2.1" fill="#fff" fill-opacity=".55"/><circle cx="133.2" cy="345.8" r="1.1"/><circle cx="137.7" cy="342.6" r="2.1" fill="#fff" fill-opacity=".55"/><circle cx="137.7" cy="342.6" r="1.1"/><circle cx="146.1" cy="342.3" r="2.1" fill="#fff" fill-opacity=".55"/><circle cx="146.1" cy="342.3" r="1.1"/><circle cx="149.1" cy="342.3" r="2.1" fill="#fff" fill-opacity=".55"/><circle cx="149.1" cy="342.3" r="1.1"/><circle cx="151.7" cy="342.3" r="2.1" fill="#fff" fill-opacity=".55"/><circle cx="151.7" cy="342.3" r="1.1"/><circle cx="146.1" cy="344.6" r="2.1" fill="#fff" fill-opacity=".55"/><circle cx="146.1" cy="344.6" r="1.1"/><circle cx="149.9" cy="344.6" r="2.1" fill="#fff" fill-opacity=".55"/><circle cx="149.9" cy="344.6" r="1.1"/><circle cx="151.7" cy="345.8" r="2.1" fill="#fff" fill-opacity=".55"/><circle cx="151.7" cy="345.8" r="1.1"/><circle cx="158.2" cy="344.6" r="2.1" fill="#fff" fill-opacity=".55"/><circle cx="158.2" cy="344.6" r="1.1"/><circle cx="159.0" cy="347.6" r="2.1" fill="#fff" fill-opacity=".55"/><circle cx="159.0" cy="347.6" r="1.1"/><circle cx="139.2" cy="347.6" r="2.1" fill="#fff" fill-opacity=".55"/><circle cx="139.2" cy="347.6" r="1.1"/><circle cx="136.2" cy="348.8" r="2.1" fill="#fff" fill-opacity=".55"/><circle cx="136.2" cy="348.8" r="1.1"/><circle cx="150.2" cy="348.8" r="2.1" fill="#fff" fill-opacity=".55"/><circle cx="150.2" cy="348.8" r="1.1"/><circle cx="152.9" cy="349.9" r="2.1" fill="#fff" fill-opacity=".55"/><circle cx="152.9" cy="349.9" r="1.1"/><circle cx="165.5" cy="343.0" r="2.1" fill="#fff" fill-opacity=".55"/><circle cx="165.5" cy="343.0" r="1.1"/><circle cx="168.1" cy="340.8" r="2.1" fill="#fff" fill-opacity=".55"/><circle cx="168.1" cy="340.8" r="1.1"/><circle cx="169.6" cy="345.3" r="2.1" fill="#fff" fill-opacity=".55"/><circle cx="169.6" cy="345.3" r="1.1"/><circle cx="166.1" cy="347.9" r="2.1" fill="#fff" fill-opacity=".55"/><circle cx="166.1" cy="347.9" r="1.1"/><circle cx="171.1" cy="348.1" r="2.1" fill="#fff" fill-opacity=".55"/><circle cx="171.1" cy="348.1" r="1.1"/><circle cx="174.9" cy="347.6" r="2.1" fill="#fff" fill-opacity=".55"/><circle cx="174.9" cy="347.6" r="1.1"/><circle cx="178.0" cy="342.3" r="2.1" fill="#fff" fill-opacity=".55"/><circle cx="178.0" cy="342.3" r="1.1"/><circle cx="178.4" cy="345.3" r="2.1" fill="#fff" fill-opacity=".55"/><circle cx="178.4" cy="345.3" r="1.1"/><circle cx="183.3" cy="341.2" r="2.1" fill="#fff" fill-opacity=".55"/><circle cx="183.3" cy="341.2" r="1.1"/><circle cx="185.9" cy="342.3" r="2.1" fill="#fff" fill-opacity=".55"/><circle cx="185.9" cy="342.3" r="1.1"/><circle cx="184.5" cy="346.1" r="2.1" fill="#fff" fill-opacity=".55"/><circle cx="184.5" cy="346.1" r="1.1"/><circle cx="180.3" cy="349.6" r="2.1" fill="#fff" fill-opacity=".55"/><circle cx="180.3" cy="349.6" r="1.1"/><circle cx="184.8" cy="350.6" r="2.1" fill="#fff" fill-opacity=".55"/><circle cx="184.8" cy="350.6" r="1.1"/><circle cx="124.8" cy="353.8" r="2.1" fill="#fff" fill-opacity=".55"/><circle cx="124.8" cy="353.8" r="1.1"/><circle cx="121.0" cy="356.8" r="2.1" fill="#fff" fill-opacity=".55"/><circle cx="121.0" cy="356.8" r="1.1"/><circle cx="120.3" cy="359.9" r="2.1" fill="#fff" fill-opacity=".55"/><circle cx="120.3" cy="359.9" r="1.1"/><circle cx="113.0" cy="359.4" r="2.1" fill="#fff" fill-opacity=".55"/><circle cx="113.0" cy="359.4" r="1.1"/><circle cx="127.9" cy="357.2" r="2.1" fill="#fff" fill-opacity=".55"/><circle cx="127.9" cy="357.2" r="1.1"/><circle cx="130.6" cy="358.4" r="2.1" fill="#fff" fill-opacity=".55"/><circle cx="130.6" cy="358.4" r="1.1"/><circle cx="129.1" cy="360.6" r="2.1" fill="#fff" fill-opacity=".55"/><circle cx="129.1" cy="360.6" r="1.1"/><circle cx="137.4" cy="359.9" r="2.1" fill="#fff" fill-opacity=".55"/><circle cx="137.4" cy="359.9" r="1.1"/><circle cx="142.0" cy="358.4" r="2.1" fill="#fff" fill-opacity=".55"/><circle cx="142.0" cy="358.4" r="1.1"/><circle cx="142.0" cy="354.1" r="2.1" fill="#fff" fill-opacity=".55"/><circle cx="142.0" cy="354.1" r="1.1"/><circle cx="143.8" cy="352.6" r="2.1" fill="#fff" fill-opacity=".55"/><circle cx="143.8" cy="352.6" r="1.1"/><circle cx="145.6" cy="354.4" r="2.1" fill="#fff" fill-opacity=".55"/><circle cx="145.6" cy="354.4" r="1.1"/><circle cx="143.8" cy="361.4" r="2.1" fill="#fff" fill-opacity=".55"/><circle cx="143.8" cy="361.4" r="1.1"/><circle cx="135.9" cy="363.5" r="2.1" fill="#fff" fill-opacity=".55"/><circle cx="135.9" cy="363.5" r="1.1"/><circle cx="133.9" cy="365.5" r="2.1" fill="#fff" fill-opacity=".55"/><circle cx="133.9" cy="365.5" r="1.1"/><circle cx="133.9" cy="367.8" r="2.1" fill="#fff" fill-opacity=".55"/><circle cx="133.9" cy="367.8" r="1.1"/><circle cx="122.2" cy="366.3" r="2.1" fill="#fff" fill-opacity=".55"/><circle cx="122.2" cy="366.3" r="1.1"/><circle cx="120.7" cy="367.8" r="2.1" fill="#fff" fill-opacity=".55"/><circle cx="120.7" cy="367.8" r="1.1"/><circle cx="166.1" cy="354.1" r="2.1" fill="#fff" fill-opacity=".55"/><circle cx="166.1" cy="354.1" r="1.1"/><circle cx="171.1" cy="356.8" r="2.1" fill="#fff" fill-opacity=".55"/><circle cx="171.1" cy="356.8" r="1.1"/><circle cx="181.5" cy="356.4" r="2.1" fill="#fff" fill-opacity=".55"/><circle cx="181.5" cy="356.4" r="1.1"/><circle cx="186.0" cy="355.3" r="2.1" fill="#fff" fill-opacity=".55"/><circle cx="186.0" cy="355.3" r="1.1"/><circle cx="189.1" cy="354.1" r="2.1" fill="#fff" fill-opacity=".55"/><circle cx="189.1" cy="354.1" r="1.1"/><circle cx="179.0" cy="359.4" r="2.1" fill="#fff" fill-opacity=".55"/><circle cx="179.0" cy="359.4" r="1.1"/><circle cx="177.2" cy="362.0" r="2.1" fill="#fff" fill-opacity=".55"/><circle cx="177.2" cy="362.0" r="1.1"/><circle cx="166.9" cy="362.0" r="2.1" fill="#fff" fill-opacity=".55"/><circle cx="166.9" cy="362.0" r="1.1"/><circle cx="182.5" cy="363.5" r="2.1" fill="#fff" fill-opacity=".55"/><circle cx="182.5" cy="363.5" r="1.1"/><circle cx="186.3" cy="362.9" r="2.1" fill="#fff" fill-opacity=".55"/><circle cx="186.3" cy="362.9" r="1.1"/><circle cx="182.5" cy="368.2" r="2.1" fill="#fff" fill-opacity=".55"/><circle cx="182.5" cy="368.2" r="1.1"/><circle cx="111.4" cy="377.7" r="2.1" fill="#fff" fill-opacity=".55"/><circle cx="111.4" cy="377.7" r="1.1"/><circle cx="128.3" cy="377.7" r="2.1" fill="#fff" fill-opacity=".55"/><circle cx="128.3" cy="377.7" r="1.1"/>
</g>
<g fill="#3a32e6">
<circle cx="204.9" cy="331.0" r="2.1" fill="#fff" fill-opacity=".55"/><circle cx="204.9" cy="331.0" r="1.1"/><circle cx="207.5" cy="333.2" r="2.1" fill="#fff" fill-opacity=".55"/><circle cx="207.5" cy="333.2" r="1.1"/><circle cx="200.1" cy="333.2" r="2.1" fill="#fff" fill-opacity=".55"/><circle cx="200.1" cy="333.2" r="1.1"/><circle cx="201.6" cy="335.1" r="2.1" fill="#fff" fill-opacity=".55"/><circle cx="201.6" cy="335.1" r="1.1"/><circle cx="204.9" cy="336.7" r="2.1" fill="#fff" fill-opacity=".55"/><circle cx="204.9" cy="336.7" r="1.1"/><circle cx="203.3" cy="338.2" r="2.1" fill="#fff" fill-opacity=".55"/><circle cx="203.3" cy="338.2" r="1.1"/><circle cx="199.9" cy="338.6" r="2.1" fill="#fff" fill-opacity=".55"/><circle cx="199.9" cy="338.6" r="1.1"/><circle cx="197.2" cy="339.2" r="2.1" fill="#fff" fill-opacity=".55"/><circle cx="197.2" cy="339.2" r="1.1"/><circle cx="207.5" cy="339.2" r="2.1" fill="#fff" fill-opacity=".55"/><circle cx="207.5" cy="339.2" r="1.1"/><circle cx="210.3" cy="339.2" r="2.1" fill="#fff" fill-opacity=".55"/><circle cx="210.3" cy="339.2" r="1.1"/><circle cx="212.8" cy="337.7" r="2.1" fill="#fff" fill-opacity=".55"/><circle cx="212.8" cy="337.7" r="1.1"/><circle cx="213.0" cy="341.1" r="2.1" fill="#fff" fill-opacity=".55"/><circle cx="213.0" cy="341.1" r="1.1"/><circle cx="210.3" cy="342.4" r="2.1" fill="#fff" fill-opacity=".55"/><circle cx="210.3" cy="342.4" r="1.1"/><circle cx="207.7" cy="343.7" r="2.1" fill="#fff" fill-opacity=".55"/><circle cx="207.7" cy="343.7" r="1.1"/><circle cx="204.9" cy="342.4" r="2.1" fill="#fff" fill-opacity=".55"/><circle cx="204.9" cy="342.4" r="1.1"/><circle cx="202.0" cy="341.8" r="2.1" fill="#fff" fill-opacity=".55"/><circle cx="202.0" cy="341.8" r="1.1"/><circle cx="203.3" cy="344.1" r="2.1" fill="#fff" fill-opacity=".55"/><circle cx="203.3" cy="344.1" r="1.1"/><circle cx="193.4" cy="345.8" r="2.1" fill="#fff" fill-opacity=".55"/><circle cx="193.4" cy="345.8" r="1.1"/><circle cx="198.6" cy="347.5" r="2.1" fill="#fff" fill-opacity=".55"/><circle cx="198.6" cy="347.5" r="1.1"/><circle cx="201.4" cy="348.7" r="2.1" fill="#fff" fill-opacity=".55"/><circle cx="201.4" cy="348.7" r="1.1"/><circle cx="195.3" cy="349.4" r="2.1" fill="#fff" fill-opacity=".55"/><circle cx="195.3" cy="349.4" r="1.1"/><circle cx="210.9" cy="347.5" r="2.1" fill="#fff" fill-opacity=".55"/><circle cx="210.9" cy="347.5" r="1.1"/><circle cx="204.9" cy="351.3" r="2.1" fill="#fff" fill-opacity=".55"/><circle cx="204.9" cy="351.3" r="1.1"/><circle cx="195.7" cy="354.2" r="2.1" fill="#fff" fill-opacity=".55"/><circle cx="195.7" cy="354.2" r="1.1"/><circle cx="215.9" cy="348.7" r="2.1" fill="#fff" fill-opacity=".55"/><circle cx="215.9" cy="348.7" r="1.1"/><circle cx="216.2" cy="350.6" r="2.1" fill="#fff" fill-opacity=".55"/><circle cx="216.2" cy="350.6" r="1.1"/><circle cx="216.6" cy="352.5" r="2.1" fill="#fff" fill-opacity=".55"/><circle cx="216.6" cy="352.5" r="1.1"/><circle cx="217.6" cy="357.6" r="2.1" fill="#fff" fill-opacity=".55"/><circle cx="217.6" cy="357.6" r="1.1"/><circle cx="200.4" cy="358.5" r="2.1" fill="#fff" fill-opacity=".55"/><circle cx="200.4" cy="358.5" r="1.1"/><circle cx="197.8" cy="359.5" r="2.1" fill="#fff" fill-opacity=".55"/><circle cx="197.8" cy="359.5" r="1.1"/><circle cx="236.5" cy="351.9" r="2.1" fill="#fff" fill-opacity=".55"/><circle cx="236.5" cy="351.9" r="1.1"/><circle cx="227.6" cy="359.5" r="2.1" fill="#fff" fill-opacity=".55"/><circle cx="227.6" cy="359.5" r="1.1"/><circle cx="187.1" cy="347.6" r="2.1" fill="#fff" fill-opacity=".55"/><circle cx="187.1" cy="347.6" r="1.1"/><circle cx="193.9" cy="360.2" r="2.1" fill="#fff" fill-opacity=".55"/><circle cx="193.9" cy="360.2" r="1.1"/><circle cx="137.7" cy="376.4" r="2.1" fill="#fff" fill-opacity=".55"/><circle cx="137.7" cy="376.4" r="1.1"/><circle cx="150.6" cy="374.9" r="2.1" fill="#fff" fill-opacity=".55"/><circle cx="150.6" cy="374.9" r="1.1"/><circle cx="167.3" cy="374.9" r="2.1" fill="#fff" fill-opacity=".55"/><circle cx="167.3" cy="374.9" r="1.1"/><circle cx="176.9" cy="376.9" r="2.1" fill="#fff" fill-opacity=".55"/><circle cx="176.9" cy="376.9" r="1.1"/><circle cx="150.6" cy="382.2" r="2.1" fill="#fff" fill-opacity=".55"/><circle cx="150.6" cy="382.2" r="1.1"/><circle cx="167.3" cy="381.9" r="2.1" fill="#fff" fill-opacity=".55"/><circle cx="167.3" cy="381.9" r="1.1"/><circle cx="171.6" cy="381.9" r="2.1" fill="#fff" fill-opacity=".55"/><circle cx="171.6" cy="381.9" r="1.1"/><circle cx="175.7" cy="381.0" r="2.1" fill="#fff" fill-opacity=".55"/><circle cx="175.7" cy="381.0" r="1.1"/><circle cx="192.4" cy="378.4" r="2.1" fill="#fff" fill-opacity=".55"/><circle cx="192.4" cy="378.4" r="1.1"/><circle cx="198.5" cy="376.4" r="2.1" fill="#fff" fill-opacity=".55"/><circle cx="198.5" cy="376.4" r="1.1"/><circle cx="198.2" cy="384.5" r="2.1" fill="#fff" fill-opacity=".55"/><circle cx="198.2" cy="384.5" r="1.1"/><circle cx="115.7" cy="387.1" r="2.1" fill="#fff" fill-opacity=".55"/><circle cx="115.7" cy="387.1" r="1.1"/><circle cx="134.4" cy="385.0" r="2.1" fill="#fff" fill-opacity=".55"/><circle cx="134.4" cy="385.0" r="1.1"/><circle cx="138.0" cy="384.5" r="2.1" fill="#fff" fill-opacity=".55"/><circle cx="138.0" cy="384.5" r="1.1"/><circle cx="133.2" cy="388.0" r="2.1" fill="#fff" fill-opacity=".55"/><circle cx="133.2" cy="388.0" r="1.1"/><circle cx="145.3" cy="388.0" r="2.1" fill="#fff" fill-opacity=".55"/><circle cx="145.3" cy="388.0" r="1.1"/><circle cx="130.6" cy="393.9" r="2.1" fill="#fff" fill-opacity=".55"/><circle cx="130.6" cy="393.9" r="1.1"/><circle cx="187.9" cy="391.8" r="2.1" fill="#fff" fill-opacity=".55"/><circle cx="187.9" cy="391.8" r="1.1"/><circle cx="181.8" cy="395.1" r="2.1" fill="#fff" fill-opacity=".55"/><circle cx="181.8" cy="395.1" r="1.1"/><circle cx="188.6" cy="396.6" r="2.1" fill="#fff" fill-opacity=".55"/><circle cx="188.6" cy="396.6" r="1.1"/><circle cx="106.3" cy="402.7" r="2.1" fill="#fff" fill-opacity=".55"/><circle cx="106.3" cy="402.7" r="1.1"/><circle cx="110.1" cy="401.5" r="2.1" fill="#fff" fill-opacity=".55"/><circle cx="110.1" cy="401.5" r="1.1"/><circle cx="113.0" cy="402.3" r="2.1" fill="#fff" fill-opacity=".55"/><circle cx="113.0" cy="402.3" r="1.1"/><circle cx="135.7" cy="404.7" r="2.1" fill="#fff" fill-opacity=".55"/><circle cx="135.7" cy="404.7" r="1.1"/><circle cx="143.8" cy="403.2" r="2.1" fill="#fff" fill-opacity=".55"/><circle cx="143.8" cy="403.2" r="1.1"/><circle cx="151.4" cy="403.2" r="2.1" fill="#fff" fill-opacity=".55"/><circle cx="151.4" cy="403.2" r="1.1"/><circle cx="164.8" cy="403.2" r="2.1" fill="#fff" fill-opacity=".55"/><circle cx="164.8" cy="403.2" r="1.1"/><circle cx="174.2" cy="403.2" r="2.1" fill="#fff" fill-opacity=".55"/><circle cx="174.2" cy="403.2" r="1.1"/><circle cx="185.9" cy="408.8" r="2.1" fill="#fff" fill-opacity=".55"/><circle cx="185.9" cy="408.8" r="1.1"/><circle cx="198.2" cy="411.8" r="2.1" fill="#fff" fill-opacity=".55"/><circle cx="198.2" cy="411.8" r="1.1"/><circle cx="135.1" cy="414.9" r="2.1" fill="#fff" fill-opacity=".55"/><circle cx="135.1" cy="414.9" r="1.1"/><circle cx="177.8" cy="424.0" r="2.1" fill="#fff" fill-opacity=".55"/><circle cx="177.8" cy="424.0" r="1.1"/><circle cx="162.6" cy="428.3" r="2.1" fill="#fff" fill-opacity=".55"/><circle cx="162.6" cy="428.3" r="1.1"/><circle cx="167.6" cy="427.5" r="2.1" fill="#fff" fill-opacity=".55"/><circle cx="167.6" cy="427.5" r="1.1"/><circle cx="156.2" cy="431.6" r="2.1" fill="#fff" fill-opacity=".55"/><circle cx="156.2" cy="431.6" r="1.1"/><circle cx="118.5" cy="437.2" r="2.1" fill="#fff" fill-opacity=".55"/><circle cx="118.5" cy="437.2" r="1.1"/><circle cx="139.2" cy="441.2" r="2.1" fill="#fff" fill-opacity=".55"/><circle cx="139.2" cy="441.2" r="1.1"/><circle cx="152.7" cy="441.8" r="2.1" fill="#fff" fill-opacity=".55"/><circle cx="152.7" cy="441.8" r="1.1"/><circle cx="114.9" cy="448.6" r="2.1" fill="#fff" fill-opacity=".55"/><circle cx="114.9" cy="448.6" r="1.1"/><circle cx="123.8" cy="447.9" r="2.1" fill="#fff" fill-opacity=".55"/><circle cx="123.8" cy="447.9" r="1.1"/><circle cx="114.9" cy="455.5" r="2.1" fill="#fff" fill-opacity=".55"/><circle cx="114.9" cy="455.5" r="1.1"/><circle cx="108.4" cy="461.5" r="2.1" fill="#fff" fill-opacity=".55"/><circle cx="108.4" cy="461.5" r="1.1"/><circle cx="162.0" cy="463.5" r="2.1" fill="#fff" fill-opacity=".55"/><circle cx="162.0" cy="463.5" r="1.1"/><circle cx="176.4" cy="465.5" r="2.1" fill="#fff" fill-opacity=".55"/><circle cx="176.4" cy="465.5" r="1.1"/><circle cx="179.0" cy="455.5" r="2.1" fill="#fff" fill-opacity=".55"/><circle cx="179.0" cy="455.5" r="1.1"/><circle cx="182.5" cy="452.6" r="2.1" fill="#fff" fill-opacity=".55"/><circle cx="182.5" cy="452.6" r="1.1"/><circle cx="191.1" cy="450.6" r="2.1" fill="#fff" fill-opacity=".55"/><circle cx="191.1" cy="450.6" r="1.1"/><circle cx="195.7" cy="447.3" r="2.1" fill="#fff" fill-opacity=".55"/><circle cx="195.7" cy="447.3" r="1.1"/><circle cx="198.0" cy="450.6" r="2.1" fill="#fff" fill-opacity=".55"/><circle cx="198.0" cy="450.6" r="1.1"/><circle cx="200.6" cy="445.3" r="2.1" fill="#fff" fill-opacity=".55"/><circle cx="200.6" cy="445.3" r="1.1"/><circle cx="191.9" cy="429.3" r="2.1" fill="#fff" fill-opacity=".55"/><circle cx="191.9" cy="429.3" r="1.1"/><circle cx="193.4" cy="430.9" r="2.1" fill="#fff" fill-opacity=".55"/><circle cx="193.4" cy="430.9" r="1.1"/><circle cx="189.2" cy="419.9" r="2.1" fill="#fff" fill-opacity=".55"/><circle cx="189.2" cy="419.9" r="1.1"/><circle cx="189.9" cy="422.1" r="2.1" fill="#fff" fill-opacity=".55"/><circle cx="189.9" cy="422.1" r="1.1"/><circle cx="194.2" cy="420.2" r="2.1" fill="#fff" fill-opacity=".55"/><circle cx="194.2" cy="420.2" r="1.1"/><circle cx="196.5" cy="422.1" r="2.1" fill="#fff" fill-opacity=".55"/><circle cx="196.5" cy="422.1" r="1.1"/><circle cx="199.5" cy="419.5" r="2.1" fill="#fff" fill-opacity=".55"/><circle cx="199.5" cy="419.5" r="1.1"/><circle cx="200.3" cy="417.2" r="2.1" fill="#fff" fill-opacity=".55"/><circle cx="200.3" cy="417.2" r="1.1"/><circle cx="202.5" cy="417.2" r="2.1" fill="#fff" fill-opacity=".55"/><circle cx="202.5" cy="417.2" r="1.1"/><circle cx="200.6" cy="408.1" r="2.1" fill="#fff" fill-opacity=".55"/><circle cx="200.6" cy="408.1" r="1.1"/><circle cx="204.8" cy="409.3" r="2.1" fill="#fff" fill-opacity=".55"/><circle cx="204.8" cy="409.3" r="1.1"/><circle cx="203.0" cy="411.4" r="2.1" fill="#fff" fill-opacity=".55"/><circle cx="203.0" cy="411.4" r="1.1"/><circle cx="206.8" cy="413.4" r="2.1" fill="#fff" fill-opacity=".55"/><circle cx="206.8" cy="413.4" r="1.1"/><circle cx="209.7" cy="412.6" r="2.1" fill="#fff" fill-opacity=".55"/><circle cx="209.7" cy="412.6" r="1.1"/><circle cx="211.7" cy="414.9" r="2.1" fill="#fff" fill-opacity=".55"/><circle cx="211.7" cy="414.9" r="1.1"/><circle cx="213.6" cy="411.1" r="2.1" fill="#fff" fill-opacity=".55"/><circle cx="213.6" cy="411.1" r="1.1"/><circle cx="215.0" cy="407.3" r="2.1" fill="#fff" fill-opacity=".55"/><circle cx="215.0" cy="407.3" r="1.1"/><circle cx="217.7" cy="408.8" r="2.1" fill="#fff" fill-opacity=".55"/><circle cx="217.7" cy="408.8" r="1.1"/><circle cx="217.7" cy="411.4" r="2.1" fill="#fff" fill-opacity=".55"/><circle cx="217.7" cy="411.4" r="1.1"/><circle cx="217.0" cy="415.4" r="2.1" fill="#fff" fill-opacity=".55"/><circle cx="217.0" cy="415.4" r="1.1"/><circle cx="205.6" cy="417.2" r="2.1" fill="#fff" fill-opacity=".55"/><circle cx="205.6" cy="417.2" r="1.1"/><circle cx="207.9" cy="418.0" r="2.1" fill="#fff" fill-opacity=".55"/><circle cx="207.9" cy="418.0" r="1.1"/><circle cx="210.1" cy="420.2" r="2.1" fill="#fff" fill-opacity=".55"/><circle cx="210.1" cy="420.2" r="1.1"/><circle cx="212.4" cy="419.5" r="2.1" fill="#fff" fill-opacity=".55"/><circle cx="212.4" cy="419.5" r="1.1"/><circle cx="208.6" cy="421.7" r="2.1" fill="#fff" fill-opacity=".55"/><circle cx="208.6" cy="421.7" r="1.1"/><circle cx="206.3" cy="422.5" r="2.1" fill="#fff" fill-opacity=".55"/><circle cx="206.3" cy="422.5" r="1.1"/><circle cx="203.3" cy="421.7" r="2.1" fill="#fff" fill-opacity=".55"/><circle cx="203.3" cy="421.7" r="1.1"/><circle cx="200.0" cy="424.3" r="2.1" fill="#fff" fill-opacity=".55"/><circle cx="200.0" cy="424.3" r="1.1"/><circle cx="200.7" cy="427.1" r="2.1" fill="#fff" fill-opacity=".55"/><circle cx="200.7" cy="427.1" r="1.1"/><circle cx="204.8" cy="428.9" r="2.1" fill="#fff" fill-opacity=".55"/><circle cx="204.8" cy="428.9" r="1.1"/><circle cx="209.7" cy="428.9" r="2.1" fill="#fff" fill-opacity=".55"/><circle cx="209.7" cy="428.9" r="1.1"/><circle cx="212.4" cy="423.3" r="2.1" fill="#fff" fill-opacity=".55"/><circle cx="212.4" cy="423.3" r="1.1"/><circle cx="213.6" cy="425.5" r="2.1" fill="#fff" fill-opacity=".55"/><circle cx="213.6" cy="425.5" r="1.1"/><circle cx="213.6" cy="428.9" r="2.1" fill="#fff" fill-opacity=".55"/><circle cx="213.6" cy="428.9" r="1.1"/><circle cx="212.7" cy="430.9" r="2.1" fill="#fff" fill-opacity=".55"/><circle cx="212.7" cy="430.9" r="1.1"/><circle cx="211.7" cy="433.1" r="2.1" fill="#fff" fill-opacity=".55"/><circle cx="211.7" cy="433.1" r="1.1"/><circle cx="206.8" cy="433.6" r="2.1" fill="#fff" fill-opacity=".55"/><circle cx="206.8" cy="433.6" r="1.1"/><circle cx="215.4" cy="434.4" r="2.1" fill="#fff" fill-opacity=".55"/><circle cx="215.4" cy="434.4" r="1.1"/><circle cx="218.9" cy="432.8" r="2.1" fill="#fff" fill-opacity=".55"/><circle cx="218.9" cy="432.8" r="1.1"/><circle cx="214.2" cy="438.5" r="2.1" fill="#fff" fill-opacity=".55"/><circle cx="214.2" cy="438.5" r="1.1"/><circle cx="215.8" cy="441.2" r="2.1" fill="#fff" fill-opacity=".55"/><circle cx="215.8" cy="441.2" r="1.1"/><circle cx="210.1" cy="442.3" r="2.1" fill="#fff" fill-opacity=".55"/><circle cx="210.1" cy="442.3" r="1.1"/><circle cx="213.6" cy="444.5" r="2.1" fill="#fff" fill-opacity=".55"/><circle cx="213.6" cy="444.5" r="1.1"/><circle cx="211.7" cy="446.1" r="2.1" fill="#fff" fill-opacity=".55"/><circle cx="211.7" cy="446.1" r="1.1"/><circle cx="219.7" cy="418.7" r="2.1" fill="#fff" fill-opacity=".55"/><circle cx="219.7" cy="418.7" r="1.1"/><circle cx="224.9" cy="373.0" r="2.1" fill="#fff" fill-opacity=".55"/><circle cx="224.9" cy="373.0" r="1.1"/><circle cx="222.2" cy="372.8" r="2.1" fill="#fff" fill-opacity=".55"/><circle cx="222.2" cy="372.8" r="1.1"/><circle cx="221.6" cy="385.3" r="2.1" fill="#fff" fill-opacity=".55"/><circle cx="221.6" cy="385.3" r="1.1"/><circle cx="221.4" cy="388.5" r="2.1" fill="#fff" fill-opacity=".55"/><circle cx="221.4" cy="388.5" r="1.1"/><circle cx="222.7" cy="396.2" r="2.1" fill="#fff" fill-opacity=".55"/><circle cx="222.7" cy="396.2" r="1.1"/><circle cx="222.7" cy="402.1" r="2.1" fill="#fff" fill-opacity=".55"/><circle cx="222.7" cy="402.1" r="1.1"/><circle cx="222.2" cy="407.6" r="2.1" fill="#fff" fill-opacity=".55"/><circle cx="222.2" cy="407.6" r="1.1"/><circle cx="222.2" cy="426.6" r="2.1" fill="#fff" fill-opacity=".55"/><circle cx="222.2" cy="426.6" r="1.1"/><circle cx="222.2" cy="429.4" r="2.1" fill="#fff" fill-opacity=".55"/><circle cx="222.2" cy="429.4" r="1.1"/><circle cx="222.2" cy="440.2" r="2.1" fill="#fff" fill-opacity=".55"/><circle cx="222.2" cy="440.2" r="1.1"/><circle cx="227.6" cy="445.1" r="2.1" fill="#fff" fill-opacity=".55"/><circle cx="227.6" cy="445.1" r="1.1"/><circle cx="229.5" cy="447.0" r="2.1" fill="#fff" fill-opacity=".55"/><circle cx="229.5" cy="447.0" r="1.1"/><circle cx="231.7" cy="452.5" r="2.1" fill="#fff" fill-opacity=".55"/><circle cx="231.7" cy="452.5" r="1.1"/><circle cx="236.6" cy="457.1" r="2.1" fill="#fff" fill-opacity=".55"/><circle cx="236.6" cy="457.1" r="1.1"/><circle cx="214.0" cy="362.7" r="2.1" fill="#fff" fill-opacity=".55"/><circle cx="214.0" cy="362.7" r="1.1"/><circle cx="209.9" cy="367.3" r="2.1" fill="#fff" fill-opacity=".55"/><circle cx="209.9" cy="367.3" r="1.1"/><circle cx="214.0" cy="370.9" r="2.1" fill="#fff" fill-opacity=".55"/><circle cx="214.0" cy="370.9" r="1.1"/><circle cx="216.7" cy="372.2" r="2.1" fill="#fff" fill-opacity=".55"/><circle cx="216.7" cy="372.2" r="1.1"/><circle cx="212.7" cy="377.1" r="2.1" fill="#fff" fill-opacity=".55"/><circle cx="212.7" cy="377.1" r="1.1"/><circle cx="216.7" cy="379.0" r="2.1" fill="#fff" fill-opacity=".55"/><circle cx="216.7" cy="379.0" r="1.1"/><circle cx="215.4" cy="385.8" r="2.1" fill="#fff" fill-opacity=".55"/><circle cx="215.4" cy="385.8" r="1.1"/><circle cx="216.7" cy="391.3" r="2.1" fill="#fff" fill-opacity=".55"/><circle cx="216.7" cy="391.3" r="1.1"/><circle cx="208.6" cy="399.4" r="2.1" fill="#fff" fill-opacity=".55"/><circle cx="208.6" cy="399.4" r="1.1"/><circle cx="200.4" cy="373.0" r="2.1" fill="#fff" fill-opacity=".55"/><circle cx="200.4" cy="373.0" r="1.1"/><circle cx="200.4" cy="381.7" r="2.1" fill="#fff" fill-opacity=".55"/><circle cx="200.4" cy="381.7" r="1.1"/><circle cx="205.2" cy="419.0" r="2.1" fill="#fff" fill-opacity=".55"/><circle cx="205.2" cy="419.0" r="1.1"/><circle cx="206.1" cy="420.5" r="2.1" fill="#fff" fill-opacity=".55"/><circle cx="206.1" cy="420.5" r="1.1"/><circle cx="207.1" cy="419.6" r="2.1" fill="#fff" fill-opacity=".55"/><circle cx="207.1" cy="419.6" r="1.1"/><circle cx="206.8" cy="418.0" r="2.1" fill="#fff" fill-opacity=".55"/><circle cx="206.8" cy="418.0" r="1.1"/><circle cx="207.7" cy="421.5" r="2.1" fill="#fff" fill-opacity=".55"/><circle cx="207.7" cy="421.5" r="1.1"/><circle cx="205.8" cy="421.5" r="2.1" fill="#fff" fill-opacity=".55"/><circle cx="205.8" cy="421.5" r="1.1"/><circle cx="204.9" cy="420.2" r="2.1" fill="#fff" fill-opacity=".55"/><circle cx="204.9" cy="420.2" r="1.1"/><circle cx="208.0" cy="419.0" r="2.1" fill="#fff" fill-opacity=".55"/><circle cx="208.0" cy="419.0" r="1.1"/><circle cx="222.0" cy="420.2" r="2.1" fill="#fff" fill-opacity=".55"/><circle cx="222.0" cy="420.2" r="1.1"/><circle cx="222.3" cy="423.1" r="2.1" fill="#fff" fill-opacity=".55"/><circle cx="222.3" cy="423.1" r="1.1"/>
</g>
</g>
<g font-size="10.2" font-weight="bold" fill="#8c8c8c" filter="url(#halo2)" text-anchor="middle">
<text x="323.5" y="196.6" textLength="38.0" lengthAdjust="spacingAndGlyphs">Nicolas</text>
<text x="369.5" y="247.3" textLength="37.0" lengthAdjust="spacingAndGlyphs">Jérôme</text>
<text x="240.5" y="305.6" textLength="33.0" lengthAdjust="spacingAndGlyphs">Karine</text>
<text x="317.0" y="290.3" textLength="28.6" lengthAdjust="spacingAndGlyphs">Laura</text>
<text x="139.0" y="339.6" textLength="49.6" lengthAdjust="spacingAndGlyphs">Sébastien</text>
<text x="161.0" y="399.4" textLength="31.2" lengthAdjust="spacingAndGlyphs">Céline</text>
</g>
</svg>
<div id="legend" class="abs">
<div class="t">Seuil personnalisé</div>
<div class="b" style="left:8.5px;width:109.5px;background:#8fc35a"></div>
<div class="b" style="left:118px;width:109.5px;background:#ffb64c"></div>
<div class="b" style="left:227.5px;width:109.5px;background:#fe5765"></div>
<div class="tk" style="left:117px"></div>
<div class="tk" style="left:227px"></div>
<div class="tk" style="left:310px;top:63px;width:1px;height:14.7px;background:#444"></div>
<div class="lb" style="left:88px">280 000</div>
<div class="lb" style="left:197px">290 000</div>
<svg class="abs" style="left:326px;top:10px" width="10" height="10" viewBox="0 0 10 10"><path d="M0.8 0.8 L9.2 9.2 M9.2 0.8 L0.8 9.2" stroke="#555" stroke-width="1.1" fill="none"/></svg>
</div>
<div class="circ" style="left:-22px;top:8px"></div>
<div class="circ" style="left:17px;top:8px"><svg class="abs" style="left:7px;top:7px" width="14" height="14" viewBox="0 0 14 14"><path d="M7 1.2 L12.6 5.2 L7 9.2 L1.4 5.2 Z" fill="none" stroke="#555" stroke-width="1.1" stroke-linejoin="round"/><path d="M1.4 8.6 L7 12.6 L12.6 8.6" fill="none" stroke="#555" stroke-width="1.1" stroke-linejoin="round" stroke-linecap="round"/></svg></div>
<div id="zc" class="abs">
<div class="zb" style="top:3px"><svg class="abs" style="left:2px;top:2px" width="14" height="14" viewBox="0 0 14 14"><path d="M1 1 H4.5 M1 1 V4.5 M1 1 L5 5 M13 1 H9.5 M13 1 V4.5 M13 1 L9 5 M1 13 H4.5 M1 13 V9.5 M1 13 L5 9 M13 13 H9.5 M13 13 V9.5 M13 13 L9 9" stroke="#fff" stroke-width="1.5" fill="none"/></svg></div>
<div class="zb" style="top:27.5px"><svg class="abs" style="left:1.5px;top:1.5px" width="15" height="15" viewBox="0 0 15 15"><circle cx="7.5" cy="7.5" r="6.3" fill="none" stroke="#fff" stroke-width="1.2"/><path d="M4 7.5 H11 M7.5 4 V11" stroke="#fff" stroke-width="1.4"/></svg></div>
<div class="zb" style="top:47px"><svg class="abs" style="left:1.5px;top:1.5px" width="15" height="15" viewBox="0 0 15 15"><circle cx="7.5" cy="7.5" r="6.3" fill="none" stroke="#fff" stroke-width="1.2"/><path d="M4 7.5 H11" stroke="#fff" stroke-width="1.4"/></svg></div>
</div>
<div class="abs" style="left:374.5px;top:472.2px;width:69px;height:2px;background:#4a9edb"></div>
</div>
<div id="gut"></div>
<div id="panel">
<div id="tabbg" class="abs"></div><div id="pl"></div>
<div id="tab" class="abs">Secteurs (6)</div>
<div id="tabrule" class="abs"></div>
<div id="tabline" class="abs"></div>
<div id="band" class="abs"></div>
<div id="filter" class="abs"><svg class="abs" style="left:9px;top:6px" width="16" height="14" viewBox="0 0 16 14"><path d="M0.8 0.8 H10.2 L6.6 5.6 V11.2 L4.4 9.6 V5.6 Z" fill="none" stroke="#8e8e8e" stroke-width="1.1" stroke-linejoin="round"/><path d="M11 7.6 V12.4 M8.6 10 H13.4" stroke="#8e8e8e" stroke-width="1.1" fill="none"/></svg><span>Créez vos filtres personnalisés en cliquant ici</span></div>
<div id="head" class="abs"><div class="cb" style="top:4.4px;border-color:#d8c8b8"></div><svg class="abs" style="left:26.9px;top:7.3px" width="6.6" height="9.4" viewBox="0 0 7 10"><path d="M3.5 0.3 L6.6 4.2 L0.4 4.2 Z M3.5 9.7 L6.6 5.8 L0.4 5.8 Z" fill="#b3d6eb"/></svg><svg class="abs" style="left:45.0px;top:6.6px" width="12.6" height="9" viewBox="0 0 14 10"><path d="M0.8 5 C2.6 1.7 4.9 0.8 7 0.8 C9.1 0.8 11.4 1.7 13.2 5 C11.4 8.3 9.1 9.2 7 9.2 C4.9 9.2 2.6 8.3 0.8 5 Z" fill="none" stroke="#fff" stroke-width="1.3"/><circle cx="7" cy="5" r="2.2" fill="none" stroke="#fff" stroke-width="1.45"/></svg><svg class="abs" style="left:63.5px;top:7.3px" width="6.6" height="9.4" viewBox="0 0 7 10"><path d="M3.5 0.3 L6.6 4.2 L0.4 4.2 Z M3.5 9.7 L6.6 5.8 L0.4 5.8 Z" fill="#b3d6eb"/></svg><div class="hl" style="left:99px;letter-spacing:0.15px">Nom</div><svg class="abs" style="left:126.3px;top:7.3px" width="6.6" height="9.4" viewBox="0 0 7 10"><path d="M3.5 0.3 L6.6 4.2 L0.4 4.2 Z M3.5 9.7 L6.6 5.8 L0.4 5.8 Z" fill="#b3d6eb"/></svg><svg class="abs" style="left:194px;top:8px" width="3" height="9" viewBox="0 0 3 9"><circle cx="1.5" cy="1.2" r="1.2" fill="#fff"/><circle cx="1.5" cy="4.5" r="1.2" fill="#fff"/><circle cx="1.5" cy="7.8" r="1.2" fill="#fff"/></svg><div class="hl" style="left:216px">Potential</div><svg class="abs" style="left:261.2px;top:7.3px" width="6.6" height="9.4" viewBox="0 0 7 10"><path d="M3.5 0.3 L6.6 4.2 L0.4 4.2 Z M3.5 9.7 L6.6 5.8 L0.4 5.8 Z" fill="#b3d6eb"/></svg><svg class="abs" style="left:320.5px;top:8px" width="3" height="9" viewBox="0 0 3 9"><circle cx="1.5" cy="1.2" r="1.2" fill="#fff"/><circle cx="1.5" cy="4.5" r="1.2" fill="#fff"/><circle cx="1.5" cy="7.8" r="1.2" fill="#fff"/></svg></div>
<div class="row" style="top:88.50px"><div class="cb" style="top:4.8px"></div><svg class="abs" style="left:44.8px;top:5.2px" width="12.6" height="9" viewBox="0 0 14 10"><path d="M0.8 5 C2.6 1.7 4.9 0.8 7 0.8 C9.1 0.8 11.4 1.7 13.2 5 C11.4 8.3 9.1 9.2 7 9.2 C4.9 9.2 2.6 8.3 0.8 5 Z" fill="none" stroke="#444" stroke-width="1.3"/><circle cx="7" cy="5" r="2.2" fill="none" stroke="#444" stroke-width="1.45"/></svg><div class="dot" style="background:#3b2fe0"></div><div class="nm">Céline</div><div class="track"><div class="fill" style="width:74.0px;background:#8fc35a"></div><div class="mo"></div><div class="mr"></div><div class="val">235 228</div></div></div>
<div class="row alt" style="top:113.00px"><div class="cb" style="top:4.8px"></div><svg class="abs" style="left:44.8px;top:5.2px" width="12.6" height="9" viewBox="0 0 14 10"><path d="M0.8 5 C2.6 1.7 4.9 0.8 7 0.8 C9.1 0.8 11.4 1.7 13.2 5 C11.4 8.3 9.1 9.2 7 9.2 C4.9 9.2 2.6 8.3 0.8 5 Z" fill="none" stroke="#444" stroke-width="1.3"/><circle cx="7" cy="5" r="2.2" fill="none" stroke="#444" stroke-width="1.45"/></svg><div class="dot" style="background:#5e2bb5"></div><div class="nm">Jérôme</div><div class="track"><div class="fill" style="width:74.6px;background:#8fc35a"></div><div class="mo"></div><div class="mr"></div><div class="val">237 314</div></div></div>
<div class="row" style="top:137.50px"><div class="cb" style="top:4.8px"></div><svg class="abs" style="left:44.8px;top:5.2px" width="12.6" height="9" viewBox="0 0 14 10"><path d="M0.8 5 C2.6 1.7 4.9 0.8 7 0.8 C9.1 0.8 11.4 1.7 13.2 5 C11.4 8.3 9.1 9.2 7 9.2 C4.9 9.2 2.6 8.3 0.8 5 Z" fill="none" stroke="#444" stroke-width="1.3"/><circle cx="7" cy="5" r="2.2" fill="none" stroke="#444" stroke-width="1.45"/></svg><div class="dot" style="background:#2ba3ae"></div><div class="nm">Karine</div><div class="track"><div class="fill" style="width:89.5px;background:#ffb64c"></div><div class="mo"></div><div class="mr"></div><div class="val">284 106</div></div></div>
<div class="row alt" style="top:162.00px"><div class="cb" style="top:4.8px"></div><svg class="abs" style="left:44.8px;top:5.2px" width="12.6" height="9" viewBox="0 0 14 10"><path d="M0.8 5 C2.6 1.7 4.9 0.8 7 0.8 C9.1 0.8 11.4 1.7 13.2 5 C11.4 8.3 9.1 9.2 7 9.2 C4.9 9.2 2.6 8.3 0.8 5 Z" fill="none" stroke="#444" stroke-width="1.3"/><circle cx="7" cy="5" r="2.2" fill="none" stroke="#444" stroke-width="1.45"/></svg><div class="dot" style="background:#b0a92a"></div><div class="nm">Laura</div><div class="track"><div class="fill" style="width:114.0px;background:#fe5765"></div><div class="mo"></div><div class="mr"></div><div class="val">362 018</div></div></div>
<div class="row" style="top:186.50px"><div class="cb" style="top:4.8px"></div><svg class="abs" style="left:44.8px;top:5.2px" width="12.6" height="9" viewBox="0 0 14 10"><path d="M0.8 5 C2.6 1.7 4.9 0.8 7 0.8 C9.1 0.8 11.4 1.7 13.2 5 C11.4 8.3 9.1 9.2 7 9.2 C4.9 9.2 2.6 8.3 0.8 5 Z" fill="none" stroke="#444" stroke-width="1.3"/><circle cx="7" cy="5" r="2.2" fill="none" stroke="#444" stroke-width="1.45"/></svg><div class="dot" style="background:#3fe03f"></div><div class="nm">Nicolas</div><div class="track"><div class="fill" style="width:69.5px;background:#8fc35a"></div><div class="mo"></div><div class="mr"></div><div class="val">220 058</div></div></div>
<div class="row alt" style="top:211.00px"><div class="cb" style="top:4.8px"></div><svg class="abs" style="left:44.8px;top:5.2px" width="12.6" height="9" viewBox="0 0 14 10"><path d="M0.8 5 C2.6 1.7 4.9 0.8 7 0.8 C9.1 0.8 11.4 1.7 13.2 5 C11.4 8.3 9.1 9.2 7 9.2 C4.9 9.2 2.6 8.3 0.8 5 Z" fill="none" stroke="#444" stroke-width="1.3"/><circle cx="7" cy="5" r="2.2" fill="none" stroke="#444" stroke-width="1.45"/></svg><div class="dot" style="background:#e03030"></div><div class="nm">Sébastien</div><div class="track"><div class="fill" style="width:57.8px;background:#8fc35a"></div><div class="mo"></div><div class="mr"></div><div class="val">182 340</div></div></div>
</div>
</body></html>
